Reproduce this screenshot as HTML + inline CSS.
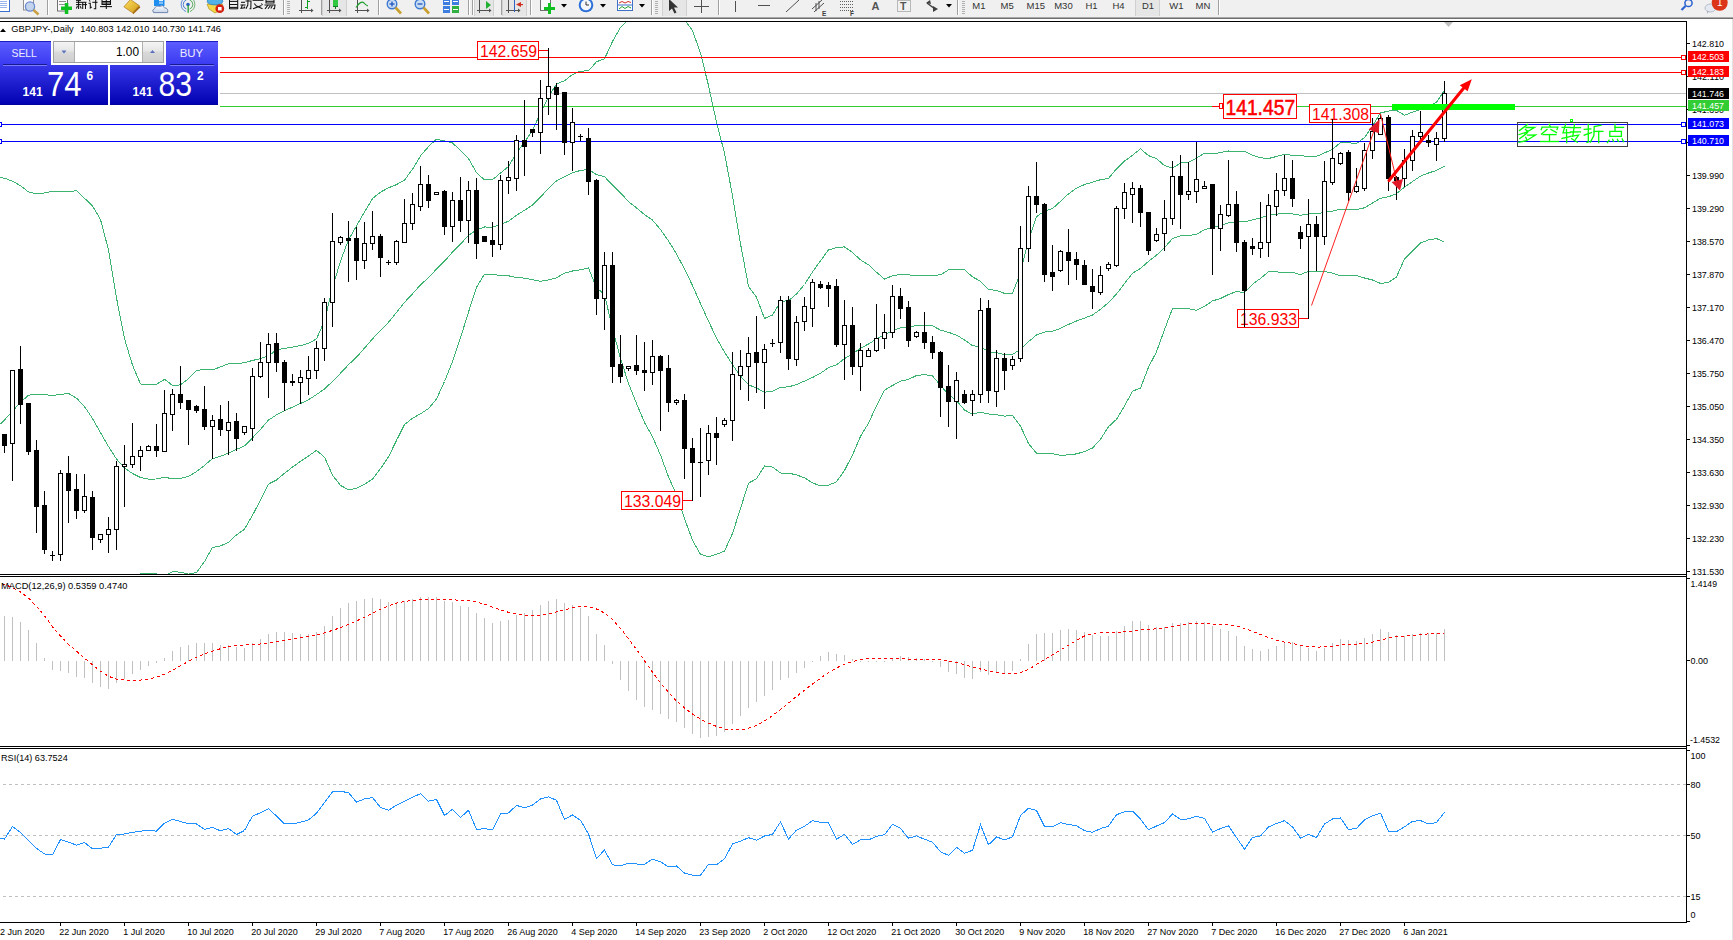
<!DOCTYPE html><html><head><meta charset="utf-8"><style>html,body{margin:0;padding:0;background:#fff;width:1733px;height:940px;overflow:hidden}svg{display:block}text{font-family:"Liberation Sans",sans-serif}</style></head><body>
<svg width="1733" height="940" viewBox="0 0 1733 940">
<rect width="1733" height="940" fill="#fff"/>
<g id="toolbar">
<rect x="0" y="0" width="1733" height="17" fill="#f0f0f0"/>
<rect x="0" y="17" width="1733" height="1" fill="#a8a8a8"/><rect x="0" y="18" width="1733" height="1" fill="#6e6e6e"/>
<g shape-rendering="crispEdges">
<rect x="-2" y="-2" width="11" height="13" fill="#fff" stroke="#3a6fd0" stroke-width="1"/>
<rect x="0" y="1" width="7" height="1" fill="#9ab4ec"/>
<rect x="0" y="3" width="7" height="1" fill="#9ab4ec"/>
<rect x="0" y="5" width="7" height="1" fill="#9ab4ec"/>
<rect x="0" y="7" width="7" height="1" fill="#9ab4ec"/>
</g>
<rect x="23.5" y="-2" width="10" height="12" fill="#fafafa" stroke="#909090" stroke-width="1"/>
<circle cx="30" cy="6.5" r="4.6" fill="#c4d4ec" stroke="#6c8cd0" stroke-width="1.3"/>
<line x1="33.5" y1="10" x2="38.5" y2="14.5" stroke="#c8a040" stroke-width="2.4"/>
<rect x="47" y="0" width="1" height="15" fill="#a0a0a0"/><rect x="48" y="0" width="1" height="15" fill="#ffffff"/>
<rect x="57.5" y="-2" width="10" height="13" fill="#fafafa" stroke="#707070" stroke-width="1"/>
<rect x="59" y="1" width="7" height="1" fill="#909090"/><rect x="59" y="4" width="7" height="1" fill="#909090"/>
<rect x="61" y="6.5" width="11" height="3.5" fill="#10c020"/><rect x="64.8" y="3" width="3.5" height="11" fill="#10c020"/>
<g fill="none" stroke="#111" stroke-width="1.05">
<polyline points="76,2.3 86.5,2.3"/>
<polyline points="78.6,0 78.6,9"/>
<polyline points="76,4.6 81.5,4.6"/>
<polyline points="76.3,8.5 77.5,6"/>
<polyline points="80.2,6.3 81.3,8.5"/>
<polyline points="82.7,2.5 82.7,9"/>
<polyline points="85.5,2.5 85.5,9"/>
<polyline points="82.7,4.6 87,4.6"/>
<polyline points="76,0.3 81,0.3"/>
<polyline points="89.2,0.3 90.2,1.5"/>
<polyline points="88.5,3.2 90.3,3.2 90.3,8 91.8,6.8"/>
<polyline points="92.3,2.3 97.5,2.3"/>
<polyline points="95.7,0 95.7,8.7 93.8,8.7"/>
<polyline points="102,0 102,4.5 110.5,4.5 110.5,0"/>
<polyline points="102,1.5 110.5,1.5"/>
<polyline points="102,3 110.5,3"/>
<polyline points="100,6.6 112,6.6"/>
<polyline points="106.3,0 106.3,9"/>
</g>
<defs><linearGradient id="gbk" x1="0" y1="0" x2="1" y2="1"><stop offset="0" stop-color="#ffe060"/><stop offset="1" stop-color="#d09a18"/></linearGradient><linearGradient id="gcl" x1="0" y1="0" x2="0" y2="1"><stop offset="0" stop-color="#ffffff"/><stop offset="1" stop-color="#c8d4e8"/></linearGradient></defs>
<polygon points="132.5,12.8 139.2,5.6 140.3,7.6 133.2,14.2" fill="#a86a10"/>
<polygon points="123.9,6.8 130.5,-0.5 139.2,5.6 132.5,12.8" fill="url(#gbk)" stroke="#b07810" stroke-width="0.7"/>
<rect x="154" y="-2" width="10.5" height="8" fill="#1e8ef0"/><rect x="159" y="0" width="4" height="1.2" fill="#e8f4ff"/><rect x="159" y="2.5" width="4" height="1" fill="#e8f4ff"/>
<path d="M153.5,12.6 Q151.3,10 154.6,8.6 Q155.6,5.2 159.6,6.4 Q162.6,4.3 164.6,7.8 Q168.6,8.2 167.6,12.6 Z" fill="url(#gcl)" stroke="#6f86b0" stroke-width="1"/>
<path d="M186,-2.5 A7.5,7.5 0 0 0 186,11.5" fill="none" stroke="#5b8ad8" stroke-width="1"/><path d="M190,-2.5 A7.5,7.5 0 0 1 190,11.5" fill="none" stroke="#6cb070" stroke-width="1"/>
<path d="M186.3,0 A4.8,4.8 0 0 0 186.3,9" fill="none" stroke="#4a7fd0" stroke-width="1"/><path d="M189.7,0 A4.8,4.8 0 0 1 189.7,9" fill="none" stroke="#58a860" stroke-width="1"/>
<circle cx="188" cy="4.5" r="1.8" fill="#2a60c8"/>
<rect x="187.5" y="5" width="1.3" height="7.8" fill="#20a030"/>
<polygon points="207,4 222.5,4 221,10 215,13 209,9" fill="#f2d848" stroke="#b09020" stroke-width="0.7"/>
<ellipse cx="215" cy="1.3" rx="7.8" ry="3.6" fill="#50b0e8" stroke="#2a80c0" stroke-width="0.8"/>
<circle cx="219.8" cy="8.7" r="4.4" fill="#d42010"/><rect x="218" y="7" width="3.6" height="3.4" fill="#fff"/>
<g fill="none" stroke="#111" stroke-width="1.05">
<polyline points="229.5,0 229.5,9"/>
<polyline points="237.7,0 237.7,9"/>
<polyline points="229.5,1.4 237.7,1.4"/>
<polyline points="229.5,4.5 237.7,4.5"/>
<polyline points="229.5,7.4 237.7,7.4"/>
<polyline points="229.5,8.8 237.7,8.8"/>
<polyline points="241,2.3 245,2.3"/>
<polyline points="240.5,5 245.5,5"/>
<polyline points="242.5,5 241,8.3 245,7.8"/>
<polyline points="244,6.5 245,8"/>
<polyline points="245.5,1 251,1 250.8,8.8 249.5,8.8"/>
<polyline points="248,0 247.8,5 246,8.8"/>
<polyline points="252.5,0.3 263.5,0.3"/>
<polyline points="254.3,3.5 255.7,5.3"/>
<polyline points="261.3,3.5 262.6,5"/>
<polyline points="255.5,5.5 262.5,8.8"/>
<polyline points="261.5,5.5 253,8.8"/>
<polyline points="266,0 266,3 274,3 274,0"/>
<polyline points="266,1.3 274,1.3"/>
<polyline points="264.5,5 275,5 274.5,8.8 273,8.8"/>
<polyline points="268,5 265,8.8"/>
<polyline points="270.5,5.5 268,8.8"/>
<polyline points="272.5,5.5 270.8,8.5"/>
</g>
<g shape-rendering="crispEdges">
<rect x="283" y="0" width="1" height="15" fill="#a0a0a0"/><rect x="284" y="0" width="1" height="15" fill="#ffffff"/>
<rect x="287" y="1" width="3" height="1" fill="#b0b0b0"/>
<rect x="287" y="3" width="3" height="1" fill="#b0b0b0"/>
<rect x="287" y="5" width="3" height="1" fill="#b0b0b0"/>
<rect x="287" y="7" width="3" height="1" fill="#b0b0b0"/>
<rect x="287" y="9" width="3" height="1" fill="#b0b0b0"/>
<rect x="287" y="11" width="3" height="1" fill="#b0b0b0"/>
<rect x="287" y="13" width="3" height="1" fill="#b0b0b0"/>
<rect x="301" y="-1" width="1" height="14" fill="#505050"/><rect x="299" y="10" width="12" height="1" fill="#505050"/><polygon points="311,8.5 313.5,10.5 311,12.5" fill="#505050" shape-rendering="auto"/>
<rect x="307" y="0" width="1" height="9" fill="#10a020"/><rect x="305" y="7" width="2" height="1" fill="#10a020"/><rect x="308" y="1" width="2" height="1" fill="#10a020"/>
<rect x="321" y="0" width="1" height="15" fill="#a0a0a0"/><rect x="322" y="0" width="1" height="15" fill="#ffffff"/>
<rect x="322" y="0" width="25" height="16" fill="#e6e6e6"/><rect x="322" y="0" width="1" height="16" fill="#d0d0d0"/><rect x="346" y="0" width="1" height="16" fill="#d0d0d0"/>
<rect x="329" y="-1" width="1" height="14" fill="#505050"/><rect x="327" y="10" width="12" height="1" fill="#505050"/><polygon points="339,8.5 341.5,10.5 339,12.5" fill="#505050" shape-rendering="auto"/>
<rect x="333" y="-1" width="5" height="8" fill="#30c840"/><rect x="333" y="6" width="5" height="1" fill="#108020"/><rect x="335" y="7" width="1" height="2" fill="#108020"/>
<rect x="357" y="-1" width="1" height="14" fill="#505050"/><rect x="355" y="10" width="12" height="1" fill="#505050"/><polygon points="367,8.5 369.5,10.5 367,12.5" fill="#505050" shape-rendering="auto"/>
</g>
<path d="M356,7.5 Q361,0 364,3 Q366,5.5 368,6" fill="none" stroke="#20a030" stroke-width="1.2"/>
<g shape-rendering="crispEdges">
<rect x="378" y="0" width="1" height="15" fill="#a0a0a0"/><rect x="379" y="0" width="1" height="15" fill="#ffffff"/>
</g>
<circle cx="392" cy="4" r="4.8" fill="#c8dcf4" stroke="#3f78d0" stroke-width="1.4"/>
<line x1="395.5" y1="7.5" x2="401" y2="13.5" stroke="#c8a030" stroke-width="2.6"/>
<rect x="389.5" y="3.3" width="5" height="1.4" fill="#2a5cc0"/>
<rect x="391.3" y="1.5" width="1.4" height="5" fill="#2a5cc0"/>
<circle cx="420" cy="4" r="4.8" fill="#c8dcf4" stroke="#3f78d0" stroke-width="1.4"/>
<line x1="423.5" y1="7.5" x2="429" y2="13.5" stroke="#c8a030" stroke-width="2.6"/>
<rect x="417.5" y="3.3" width="5" height="1.4" fill="#2a5cc0"/>
<g shape-rendering="crispEdges">
<rect x="443" y="-2" width="7" height="7" fill="#3d7de0"/><rect x="452" y="-2" width="7" height="7" fill="#3d7de0"/><rect x="443" y="6" width="7" height="7" fill="#3d7de0"/><rect x="452" y="6" width="7" height="7" fill="#30b040"/>
<rect x="444" y="1" width="5" height="1" fill="#fff"/><rect x="453" y="1" width="5" height="1" fill="#fff"/><rect x="444" y="9" width="5" height="1" fill="#fff"/><rect x="453" y="9" width="5" height="1" fill="#fff"/>
<rect x="468" y="0" width="1" height="15" fill="#a0a0a0"/><rect x="469" y="0" width="1" height="15" fill="#ffffff"/>
<rect x="472" y="0" width="1" height="15" fill="#a0a0a0"/><rect x="473" y="0" width="1" height="15" fill="#ffffff"/>
<rect x="474" y="0" width="20" height="16" fill="#e6e6e6"/><rect x="474" y="0" width="1" height="16" fill="#d0d0d0"/><rect x="493" y="0" width="1" height="16" fill="#d0d0d0"/>
<rect x="479" y="-1" width="1" height="14" fill="#505050"/><rect x="477" y="10" width="12" height="1" fill="#505050"/><polygon points="489,8.5 491.5,10.5 489,12.5" fill="#505050" shape-rendering="auto"/>
</g>
<polygon points="486,1 486,9 491,5" fill="#20b030"/>
<g shape-rendering="crispEdges">
<rect x="501" y="0" width="1" height="15" fill="#a0a0a0"/><rect x="502" y="0" width="1" height="15" fill="#ffffff"/>
<rect x="502" y="0" width="25" height="16" fill="#e6e6e6"/><rect x="502" y="0" width="1" height="16" fill="#d0d0d0"/><rect x="526" y="0" width="1" height="16" fill="#d0d0d0"/>
<rect x="508" y="-1" width="1" height="14" fill="#505050"/><rect x="506" y="10" width="12" height="1" fill="#505050"/><polygon points="518,8.5 520.5,10.5 518,12.5" fill="#505050" shape-rendering="auto"/>
<rect x="514" y="0" width="1" height="12" fill="#3060c0"/>
</g>
<polygon points="516,4.5 521,2 521,7" fill="#d03020"/><rect x="520" y="4" width="3" height="1.2" fill="#d03020"/>
<g shape-rendering="crispEdges">
<rect x="530" y="0" width="1" height="15" fill="#a0a0a0"/><rect x="531" y="0" width="1" height="15" fill="#ffffff"/>
<rect x="540.5" y="-2" width="10" height="12" fill="#fafafa" stroke="#707070" stroke-width="1"/>
<rect x="544" y="6.5" width="11" height="3.5" fill="#10c020"/><rect x="547.8" y="3" width="3.5" height="11" fill="#10c020"/>
</g>
<polygon points="561,4 567,4 564,7.5" fill="#000"/>
<circle cx="586" cy="5" r="7.3" fill="#2a6fd8"/><circle cx="586" cy="5" r="5.3" fill="#f4f8fc"/>
<path d="M586,1.5 L586,5 L589,5" fill="none" stroke="#333" stroke-width="1"/>
<polygon points="600,4 606,4 603,7.5" fill="#000"/>
<rect x="617.5" y="-1.5" width="15" height="12" fill="#fff" stroke="#4070c8" stroke-width="1"/>
<polyline points="619,3 622,1.5 625,3 628,1.5 631,2.5" fill="none" stroke="#d03030" stroke-width="1"/>
<rect x="618" y="4.5" width="14" height="1" fill="#4070c8"/>
<polyline points="619,9 622,6.5 625,8.5 628,6.5 631,8" fill="none" stroke="#20a030" stroke-width="1"/>
<polygon points="639,4 645,4 642,7.5" fill="#000"/>
<g shape-rendering="crispEdges">
<rect x="651" y="0" width="1" height="15" fill="#a0a0a0"/><rect x="652" y="0" width="1" height="15" fill="#ffffff"/>
<rect x="655" y="1" width="3" height="1" fill="#b0b0b0"/>
<rect x="655" y="3" width="3" height="1" fill="#b0b0b0"/>
<rect x="655" y="5" width="3" height="1" fill="#b0b0b0"/>
<rect x="655" y="7" width="3" height="1" fill="#b0b0b0"/>
<rect x="655" y="9" width="3" height="1" fill="#b0b0b0"/>
<rect x="655" y="11" width="3" height="1" fill="#b0b0b0"/>
<rect x="655" y="13" width="3" height="1" fill="#b0b0b0"/>
<rect x="662" y="0" width="25" height="16" fill="#e6e6e6"/><rect x="662" y="0" width="1" height="16" fill="#d0d0d0"/><rect x="686" y="0" width="1" height="16" fill="#d0d0d0"/>
</g>
<polygon points="669,-1 669,11 672,8.5 674.5,13.5 676.5,12.5 674,7.5 678,7.5" fill="#333"/>
<g shape-rendering="crispEdges" fill="#505050">
<rect x="701" y="0" width="1" height="13"/><rect x="694" y="6" width="15" height="1"/>
</g>
<g shape-rendering="crispEdges">
<rect x="718" y="0" width="1" height="15" fill="#a0a0a0"/><rect x="719" y="0" width="1" height="15" fill="#ffffff"/>
<rect x="735" y="1" width="1" height="11" fill="#505050"/>
<rect x="758" y="5" width="12" height="1" fill="#505050"/>
</g>
<line x1="786" y1="12" x2="799" y2="0" stroke="#505050" stroke-width="1"/>
<g stroke="#505050" stroke-width="1" fill="none"><line x1="812" y1="9" x2="822" y2="0"/><line x1="814" y1="12" x2="824" y2="3"/><line x1="816" y1="3" x2="816" y2="11"/><line x1="819" y1="1" x2="819" y2="9"/></g>
<text x="822" y="15.5" font-size="6.5" font-weight="bold" fill="#404040">E</text>
<g shape-rendering="crispEdges" fill="#606060">
<rect x="840" y="1" width="1" height="1"/>
<rect x="842" y="1" width="1" height="1"/>
<rect x="844" y="1" width="1" height="1"/>
<rect x="846" y="1" width="1" height="1"/>
<rect x="848" y="1" width="1" height="1"/>
<rect x="850" y="1" width="1" height="1"/>
<rect x="852" y="1" width="1" height="1"/>
<rect x="840" y="4" width="1" height="1"/>
<rect x="842" y="4" width="1" height="1"/>
<rect x="844" y="4" width="1" height="1"/>
<rect x="846" y="4" width="1" height="1"/>
<rect x="848" y="4" width="1" height="1"/>
<rect x="850" y="4" width="1" height="1"/>
<rect x="852" y="4" width="1" height="1"/>
<rect x="840" y="7" width="1" height="1"/>
<rect x="842" y="7" width="1" height="1"/>
<rect x="844" y="7" width="1" height="1"/>
<rect x="846" y="7" width="1" height="1"/>
<rect x="848" y="7" width="1" height="1"/>
<rect x="850" y="7" width="1" height="1"/>
<rect x="852" y="7" width="1" height="1"/>
<rect x="840" y="10" width="1" height="1"/>
<rect x="842" y="10" width="1" height="1"/>
<rect x="844" y="10" width="1" height="1"/>
<rect x="846" y="10" width="1" height="1"/>
<rect x="848" y="10" width="1" height="1"/>
<rect x="850" y="10" width="1" height="1"/>
<rect x="852" y="10" width="1" height="1"/>
</g>
<text x="850" y="16" font-size="6.5" font-weight="bold" fill="#404040">F</text>
<text x="871.5" y="10" font-size="11" font-weight="bold" fill="#555">A</text>
<rect x="897.5" y="0.5" width="13" height="11" fill="none" stroke="#808080" stroke-width="1" stroke-dasharray="1,1"/>
<text x="900" y="10" font-size="10.5" font-weight="bold" fill="#555">T</text>
<polygon points="926,3 930,0 931,4" fill="#404040"/><polygon points="933,6 938,9 933,12" fill="#404040"/><line x1="927" y1="3" x2="935" y2="9" stroke="#404040" stroke-width="1.5"/>
<polygon points="946,4 952,4 949,7.5" fill="#000"/>
<g shape-rendering="crispEdges">
<rect x="957" y="0" width="1" height="15" fill="#a0a0a0"/><rect x="958" y="0" width="1" height="15" fill="#ffffff"/>
<rect x="962" y="1" width="3" height="1" fill="#b0b0b0"/>
<rect x="962" y="3" width="3" height="1" fill="#b0b0b0"/>
<rect x="962" y="5" width="3" height="1" fill="#b0b0b0"/>
<rect x="962" y="7" width="3" height="1" fill="#b0b0b0"/>
<rect x="962" y="9" width="3" height="1" fill="#b0b0b0"/>
<rect x="962" y="11" width="3" height="1" fill="#b0b0b0"/>
<rect x="962" y="13" width="3" height="1" fill="#b0b0b0"/>
<rect x="1135" y="0" width="25" height="16" fill="#e6e6e6"/><rect x="1135" y="0" width="1" height="16" fill="#d0d0d0"/><rect x="1159" y="0" width="1" height="16" fill="#d0d0d0"/>
<rect x="1218" y="0" width="1" height="15" fill="#a0a0a0"/><rect x="1219" y="0" width="1" height="15" fill="#ffffff"/>
</g>
<text x="972.3" y="9.2" font-size="9.5" fill="#333">M1</text>
<text x="1000.5" y="9.2" font-size="9.5" fill="#333">M5</text>
<text x="1026.5" y="9.2" font-size="9.5" fill="#333">M15</text>
<text x="1054.2" y="9.2" font-size="9.5" fill="#333">M30</text>
<text x="1085.4" y="9.2" font-size="9.5" fill="#333">H1</text>
<text x="1112.4" y="9.2" font-size="9.5" fill="#333">H4</text>
<text x="1142" y="9.2" font-size="9.5" fill="#333">D1</text>
<text x="1169.2" y="9.2" font-size="9.5" fill="#333">W1</text>
<text x="1195.5" y="9.2" font-size="9.5" fill="#333">MN</text>
<circle cx="1688.5" cy="3" r="3.6" fill="none" stroke="#2a60d0" stroke-width="1.5"/><line x1="1685.5" y1="6" x2="1681.5" y2="10" stroke="#2a60d0" stroke-width="2.2"/>
<ellipse cx="1710.5" cy="8" rx="5.5" ry="4" fill="#e4e8f0" stroke="#a8b0c0" stroke-width="0.8"/><polygon points="1707,11 1709,11 1707,14" fill="#a8b0c0"/>
<circle cx="1719.7" cy="2.8" r="8" fill="#dc3418"/>
<text x="1719.7" y="6.3" font-size="10" font-family="Liberation Serif" fill="#fff" text-anchor="middle">1</text>
</g>
<g shape-rendering="crispEdges" fill="#000">
<rect x="0" y="21" width="1687" height="1"/>
<rect x="1686" y="21" width="1" height="902"/>
<rect x="0" y="574" width="1687" height="1"/><rect x="0" y="576" width="1687" height="1"/>
<rect x="0" y="746" width="1687" height="1"/><rect x="0" y="748" width="1687" height="1"/>
<rect x="0" y="922" width="1687" height="1"/>
<rect x="1732" y="19" width="1" height="921" fill="#e3e3e3"/>
</g>
<defs><clipPath id="cm"><rect x="0" y="22" width="1686" height="552"/></clipPath><clipPath id="cmacd"><rect x="0" y="577" width="1686" height="169"/></clipPath><clipPath id="crsi"><rect x="0" y="749" width="1686" height="173"/></clipPath></defs>
<g clip-path="url(#cm)">
<g fill="none" stroke="#3cb371" stroke-width="1" shape-rendering="crispEdges"><polyline points="0.0,177.4 4.5,178.2 12.5,181.2 20.5,185.8 28.5,191.9 36.5,193.8 44.5,193.0 52.5,191.1 60.5,191.5 68.5,192.0 76.5,190.6 84.5,198.3 92.5,205.8 100.5,219.5 108.5,249.9 116.5,297.9 124.5,338.7 132.5,365.1 140.5,384.0 148.5,384.1 156.5,384.3 164.5,379.3 172.5,385.4 180.5,384.9 188.5,378.6 196.5,370.6 204.5,369.2 212.5,369.8 220.5,366.9 228.5,363.7 236.5,363.9 244.5,362.6 252.5,360.5 260.5,358.6 268.5,356.0 276.5,349.8 284.5,348.4 292.5,347.1 300.5,345.6 308.5,343.4 316.5,338.8 324.5,320.9 332.5,287.7 340.5,261.0 348.5,239.7 356.5,226.0 364.5,211.9 372.5,198.6 380.5,192.1 388.5,187.8 396.5,184.6 404.5,180.1 412.5,169.3 420.5,155.9 428.5,146.6 436.5,139.1 444.5,141.0 452.5,142.9 460.5,150.6 468.5,158.5 476.5,172.8 484.5,179.8 492.5,179.7 500.5,173.0 508.5,166.5 516.5,152.8 524.5,142.4 532.5,130.3 540.5,112.9 548.5,96.8 556.5,84.0 564.5,80.7 572.5,74.6 580.5,71.1 588.5,70.9 596.5,61.7 604.5,58.9 612.5,41.4 620.5,27.3 628.5,19.7 636.5,12.3 644.5,6.5 652.5,3.4 660.5,4.2 668.5,4.8 676.5,12.9 684.5,19.4 692.5,30.7 700.5,53.1 708.5,85.5 716.5,122.2 724.5,153.1 732.5,195.8 740.5,243.8 748.5,286.3 756.5,297.3 764.5,318.4 772.5,315.0 780.5,301.5 788.5,300.7 796.5,294.0 804.5,284.5 812.5,272.0 820.5,260.7 828.5,250.0 836.5,247.7 844.5,246.9 852.5,252.5 860.5,259.9 868.5,264.8 876.5,272.2 884.5,279.1 892.5,275.8 900.5,274.5 908.5,274.8 916.5,275.7 924.5,275.9 932.5,275.5 940.5,274.8 948.5,269.9 956.5,269.7 964.5,269.8 972.5,276.9 980.5,281.2 988.5,289.6 996.5,290.3 1004.5,293.4 1012.5,293.3 1020.5,272.6 1028.5,239.8 1036.5,216.8 1044.5,211.0 1052.5,208.6 1060.5,201.3 1068.5,193.9 1076.5,188.1 1084.5,184.6 1092.5,182.1 1100.5,179.7 1108.5,178.5 1116.5,168.8 1124.5,161.1 1132.5,155.3 1140.5,148.8 1148.5,155.6 1156.5,158.6 1164.5,165.6 1172.5,168.2 1180.5,163.0 1188.5,162.3 1196.5,158.1 1204.5,153.2 1212.5,153.8 1220.5,152.6 1228.5,151.0 1236.5,151.9 1244.5,151.1 1252.5,155.2 1260.5,157.8 1268.5,158.5 1276.5,156.5 1284.5,154.3 1292.5,155.4 1300.5,155.7 1308.5,156.5 1316.5,156.4 1324.5,152.9 1332.5,149.3 1340.5,142.6 1348.5,142.7 1356.5,143.6 1364.5,137.6 1372.5,126.0 1380.5,112.9 1388.5,111.1 1396.5,110.3 1404.5,115.3 1412.5,112.1 1420.5,109.3 1428.5,106.0 1436.5,102.2 1444.5,90.3"/><polyline points="0.0,424.3 4.5,419.9 12.5,411.2 20.5,402.3 28.5,395.2 36.5,394.2 44.5,394.6 52.5,395.5 60.5,394.5 68.5,393.5 76.5,398.1 84.5,406.6 92.5,418.5 100.5,432.5 108.5,446.5 116.5,459.0 124.5,468.0 132.5,473.5 140.5,477.5 148.5,479.1 156.5,479.0 164.5,477.4 172.5,478.6 180.5,478.5 188.5,476.4 196.5,471.6 204.5,465.4 212.5,458.6 220.5,456.4 228.5,453.0 236.5,449.4 244.5,445.9 252.5,437.9 260.5,429.3 268.5,420.1 276.5,414.9 284.5,410.8 292.5,407.1 300.5,403.5 308.5,399.7 316.5,394.6 324.5,389.0 332.5,381.4 340.5,373.2 348.5,364.7 356.5,357.2 364.5,348.1 372.5,338.9 380.5,330.3 388.5,322.3 396.5,312.5 404.5,302.4 412.5,293.8 420.5,284.9 428.5,277.6 436.5,269.1 444.5,261.2 452.5,252.1 460.5,244.2 468.5,235.3 476.5,230.1 484.5,227.0 492.5,227.1 500.5,224.3 508.5,221.2 516.5,215.2 524.5,210.3 532.5,205.1 540.5,197.1 548.5,188.3 556.5,180.9 564.5,176.9 572.5,172.8 580.5,170.4 588.5,169.4 596.5,174.7 604.5,176.7 612.5,185.0 620.5,192.8 628.5,201.6 636.5,207.9 644.5,214.5 652.5,220.1 660.5,229.6 668.5,240.9 676.5,253.9 684.5,269.0 692.5,285.5 700.5,303.7 708.5,321.1 716.5,338.2 724.5,352.1 732.5,364.7 740.5,376.1 748.5,384.8 756.5,388.0 764.5,392.2 772.5,391.1 780.5,387.3 788.5,386.9 796.5,384.5 804.5,381.1 812.5,377.5 820.5,373.3 828.5,367.6 836.5,364.8 844.5,358.6 852.5,353.8 860.5,348.2 868.5,344.0 876.5,339.0 884.5,334.6 892.5,330.7 900.5,327.8 908.5,327.1 916.5,325.6 924.5,325.3 932.5,325.8 940.5,330.1 948.5,332.3 956.5,335.1 964.5,339.9 972.5,345.6 980.5,346.7 988.5,351.8 996.5,352.5 1004.5,354.8 1012.5,354.4 1020.5,349.4 1028.5,341.7 1036.5,335.0 1044.5,332.1 1052.5,331.2 1060.5,328.4 1068.5,324.4 1076.5,321.0 1084.5,318.1 1092.5,315.0 1100.5,309.4 1108.5,302.6 1116.5,294.0 1124.5,283.6 1132.5,273.2 1140.5,268.4 1148.5,261.4 1156.5,255.2 1164.5,247.6 1172.5,238.5 1180.5,235.7 1188.5,235.5 1196.5,234.3 1204.5,229.8 1212.5,227.4 1220.5,225.5 1228.5,222.8 1236.5,221.7 1244.5,221.9 1252.5,219.8 1260.5,218.1 1268.5,215.1 1276.5,214.2 1284.5,213.4 1292.5,213.9 1300.5,215.2 1308.5,213.9 1316.5,214.0 1324.5,212.1 1332.5,211.2 1340.5,209.2 1348.5,209.2 1356.5,209.6 1364.5,207.8 1372.5,203.0 1380.5,198.2 1388.5,196.8 1396.5,193.7 1404.5,187.1 1412.5,181.6 1420.5,176.1 1428.5,173.0 1436.5,170.4 1444.5,166.2"/><polyline points="132.5,580.0 140.5,573.6 148.5,573.6 156.5,573.8 164.5,575.5 172.5,571.8 180.5,572.1 188.5,574.2 196.5,572.5 204.5,561.6 212.5,547.4 220.5,545.9 228.5,542.3 236.5,534.9 244.5,529.2 252.5,515.3 260.5,500.0 268.5,484.1 276.5,480.0 284.5,473.3 292.5,467.1 300.5,461.4 308.5,456.0 316.5,450.4 324.5,457.2 332.5,475.1 340.5,485.4 348.5,489.7 356.5,488.4 364.5,484.2 372.5,479.2 380.5,468.6 388.5,456.9 396.5,440.4 404.5,424.6 412.5,418.2 420.5,413.8 428.5,408.6 436.5,399.1 444.5,381.5 452.5,361.4 460.5,337.9 468.5,312.0 476.5,287.3 484.5,274.2 492.5,274.5 500.5,275.5 508.5,275.8 516.5,277.5 524.5,278.1 532.5,279.8 540.5,281.3 548.5,279.9 556.5,277.8 564.5,273.1 572.5,271.0 580.5,269.7 588.5,268.0 596.5,287.7 604.5,294.5 612.5,328.6 620.5,358.3 628.5,383.4 636.5,403.5 644.5,422.5 652.5,436.8 660.5,455.0 668.5,476.9 676.5,494.8 684.5,518.6 692.5,540.3 700.5,554.3 708.5,556.7 716.5,554.3 724.5,551.0 732.5,533.5 740.5,508.5 748.5,483.2 756.5,478.7 764.5,466.0 772.5,467.1 780.5,473.0 788.5,473.1 796.5,474.9 804.5,477.8 812.5,482.9 820.5,485.9 828.5,485.2 836.5,481.8 844.5,470.4 852.5,455.0 860.5,436.4 868.5,423.2 876.5,405.8 884.5,390.1 892.5,385.5 900.5,381.1 908.5,379.4 916.5,375.5 924.5,374.6 932.5,376.0 940.5,385.4 948.5,394.6 956.5,400.6 964.5,410.0 972.5,414.2 980.5,412.1 988.5,414.0 996.5,414.7 1004.5,416.1 1012.5,415.6 1020.5,426.1 1028.5,443.6 1036.5,453.2 1044.5,453.2 1052.5,453.7 1060.5,455.4 1068.5,454.8 1076.5,453.9 1084.5,451.5 1092.5,448.0 1100.5,439.2 1108.5,426.7 1116.5,419.3 1124.5,406.0 1132.5,391.2 1140.5,388.0 1148.5,367.2 1156.5,351.8 1164.5,329.6 1172.5,308.7 1180.5,308.5 1188.5,308.7 1196.5,310.4 1204.5,306.4 1212.5,300.9 1220.5,298.5 1228.5,294.5 1236.5,291.5 1244.5,292.8 1252.5,284.3 1260.5,278.4 1268.5,271.8 1276.5,271.9 1284.5,272.6 1292.5,272.4 1300.5,274.6 1308.5,271.3 1316.5,271.5 1324.5,271.4 1332.5,273.2 1340.5,275.8 1348.5,275.8 1356.5,275.5 1364.5,278.0 1372.5,280.0 1380.5,283.4 1388.5,282.5 1396.5,277.0 1404.5,258.9 1412.5,251.0 1420.5,243.0 1428.5,239.9 1436.5,238.6 1444.5,242.1"/></g>
<g shape-rendering="crispEdges">
<rect x="0" y="57" width="1686" height="1" fill="#ff0000"/>
<rect x="0" y="72" width="1686" height="1" fill="#ff0000"/>
<rect x="0" y="93" width="1686" height="1" fill="#c0c0c0"/>
<rect x="0" y="106" width="1686" height="1" fill="#32cd32"/>
<rect x="0" y="124" width="1686" height="1" fill="#0000ff"/>
<rect x="0" y="141" width="1686" height="1" fill="#0000ff"/>
<rect x="1681.5" y="55.5" width="4" height="4" fill="#fff" stroke="#ff0000" stroke-width="1"/>
<rect x="-2.5" y="55.5" width="4" height="4" fill="#fff" stroke="#ff0000" stroke-width="1"/>
<rect x="1681.5" y="70.5" width="4" height="4" fill="#fff" stroke="#ff0000" stroke-width="1"/>
<rect x="-2.5" y="70.5" width="4" height="4" fill="#fff" stroke="#ff0000" stroke-width="1"/>
<rect x="1681.5" y="122.5" width="4" height="4" fill="#fff" stroke="#0000ff" stroke-width="1"/>
<rect x="-2.5" y="122.5" width="4" height="4" fill="#fff" stroke="#0000ff" stroke-width="1"/>
<rect x="1681.5" y="139.5" width="4" height="4" fill="#fff" stroke="#0000ff" stroke-width="1"/>
<rect x="-2.5" y="139.5" width="4" height="4" fill="#fff" stroke="#0000ff" stroke-width="1"/>
</g>
<g shape-rendering="crispEdges" fill="#ff0000"><rect x="539" y="50" width="9" height="1"/></g>
<rect x="477.5" y="41.5" width="61" height="18" fill="#fff" stroke="#ff0000" stroke-width="1" shape-rendering="crispEdges"/><text x="480" y="57" font-size="16" fill="#ff0000" text-anchor="start" font-weight="normal" textLength="57" lengthAdjust="spacingAndGlyphs">142.659</text>
<g shape-rendering="crispEdges" fill="#ff0000"><rect x="1212" y="106" width="9" height="1"/></g>
<rect x="1219.5" y="103.5" width="3" height="5" fill="#fff" stroke="#ff0000" stroke-width="1" shape-rendering="crispEdges"/>
<rect x="1223.5" y="94.5" width="73" height="24" fill="#fff" stroke="#ff0000" stroke-width="1" shape-rendering="crispEdges"/><text x="1225.5" y="115.3" font-size="22.5" fill="#ff0000" text-anchor="start" font-weight="normal" stroke="#ff0000" stroke-width="0.55" textLength="69.6" lengthAdjust="spacingAndGlyphs">141.457</text>
<g shape-rendering="crispEdges" fill="#ff0000"><rect x="1371" y="113" width="9" height="1"/></g>
<rect x="1309.5" y="104.5" width="61" height="18" fill="#fff" stroke="#ff0000" stroke-width="1" shape-rendering="crispEdges"/><text x="1312" y="120" font-size="16" fill="#ff0000" text-anchor="start" font-weight="normal" textLength="57" lengthAdjust="spacingAndGlyphs">141.308</text>
<g shape-rendering="crispEdges" fill="#ff0000"><rect x="1299" y="318" width="9" height="1"/></g>
<rect x="1237.5" y="309.5" width="61" height="18" fill="#fff" stroke="#ff0000" stroke-width="1" shape-rendering="crispEdges"/><text x="1240" y="325" font-size="16" fill="#ff0000" text-anchor="start" font-weight="normal" textLength="57" lengthAdjust="spacingAndGlyphs">136.933</text>
<g shape-rendering="crispEdges" fill="#ff0000"><rect x="683" y="500" width="9" height="1"/></g>
<rect x="621.5" y="491.5" width="61" height="18" fill="#fff" stroke="#ff0000" stroke-width="1" shape-rendering="crispEdges"/><text x="624" y="507" font-size="16" fill="#ff0000" text-anchor="start" font-weight="normal" textLength="57" lengthAdjust="spacingAndGlyphs">133.049</text>
<g shape-rendering="crispEdges">
<rect x="4" y="434" width="1" height="19" fill="#000"/>
<rect x="2" y="434" width="5" height="12" fill="#000"/>
<rect x="12" y="370" width="1" height="111" fill="#000"/>
<rect x="10" y="370" width="5" height="74" fill="#000"/>
<rect x="11" y="371" width="3" height="72" fill="#fff"/>
<rect x="20" y="346" width="1" height="78" fill="#000"/>
<rect x="18" y="369" width="5" height="36" fill="#000"/>
<rect x="28" y="403" width="1" height="52" fill="#000"/>
<rect x="26" y="403" width="5" height="49" fill="#000"/>
<rect x="36" y="440" width="1" height="93" fill="#000"/>
<rect x="34" y="450" width="5" height="57" fill="#000"/>
<rect x="44" y="491" width="1" height="63" fill="#000"/>
<rect x="42" y="505" width="5" height="45" fill="#000"/>
<rect x="52" y="551" width="1" height="10" fill="#000"/>
<rect x="50" y="555" width="5" height="1" fill="#000"/>
<rect x="60" y="470" width="1" height="91" fill="#000"/>
<rect x="58" y="473" width="5" height="82" fill="#000"/>
<rect x="59" y="474" width="3" height="80" fill="#fff"/>
<rect x="68" y="456" width="1" height="67" fill="#000"/>
<rect x="66" y="473" width="5" height="18" fill="#000"/>
<rect x="76" y="474" width="1" height="45" fill="#000"/>
<rect x="74" y="489" width="5" height="22" fill="#000"/>
<rect x="84" y="474" width="1" height="39" fill="#000"/>
<rect x="82" y="496" width="5" height="15" fill="#000"/>
<rect x="83" y="497" width="3" height="13" fill="#fff"/>
<rect x="92" y="491" width="1" height="59" fill="#000"/>
<rect x="90" y="497" width="5" height="41" fill="#000"/>
<rect x="100" y="534" width="1" height="9" fill="#000"/>
<rect x="98" y="534" width="5" height="6" fill="#000"/>
<rect x="99" y="535" width="3" height="4" fill="#fff"/>
<rect x="108" y="517" width="1" height="36" fill="#000"/>
<rect x="106" y="529" width="5" height="6" fill="#000"/>
<rect x="107" y="530" width="3" height="4" fill="#fff"/>
<rect x="116" y="461" width="1" height="89" fill="#000"/>
<rect x="114" y="466" width="5" height="64" fill="#000"/>
<rect x="115" y="467" width="3" height="62" fill="#fff"/>
<rect x="124" y="445" width="1" height="62" fill="#000"/>
<rect x="122" y="464" width="5" height="3" fill="#000"/>
<rect x="123" y="465" width="3" height="1" fill="#fff"/>
<rect x="132" y="423" width="1" height="45" fill="#000"/>
<rect x="130" y="456" width="5" height="9" fill="#000"/>
<rect x="131" y="457" width="3" height="7" fill="#fff"/>
<rect x="140" y="446" width="1" height="25" fill="#000"/>
<rect x="138" y="450" width="5" height="7" fill="#000"/>
<rect x="139" y="451" width="3" height="5" fill="#fff"/>
<rect x="148" y="445" width="1" height="6" fill="#000"/>
<rect x="146" y="446" width="5" height="5" fill="#000"/>
<rect x="147" y="447" width="3" height="3" fill="#fff"/>
<rect x="156" y="424" width="1" height="33" fill="#000"/>
<rect x="154" y="446" width="5" height="5" fill="#000"/>
<rect x="164" y="390" width="1" height="62" fill="#000"/>
<rect x="162" y="413" width="5" height="39" fill="#000"/>
<rect x="163" y="414" width="3" height="37" fill="#fff"/>
<rect x="172" y="389" width="1" height="42" fill="#000"/>
<rect x="170" y="394" width="5" height="21" fill="#000"/>
<rect x="171" y="395" width="3" height="19" fill="#fff"/>
<rect x="180" y="366" width="1" height="43" fill="#000"/>
<rect x="178" y="394" width="5" height="9" fill="#000"/>
<rect x="188" y="400" width="1" height="45" fill="#000"/>
<rect x="186" y="400" width="5" height="10" fill="#000"/>
<rect x="196" y="405" width="1" height="8" fill="#000"/>
<rect x="194" y="406" width="5" height="5" fill="#000"/>
<rect x="204" y="386" width="1" height="44" fill="#000"/>
<rect x="202" y="409" width="5" height="18" fill="#000"/>
<rect x="212" y="415" width="1" height="44" fill="#000"/>
<rect x="210" y="420" width="5" height="7" fill="#000"/>
<rect x="211" y="421" width="3" height="5" fill="#fff"/>
<rect x="220" y="405" width="1" height="31" fill="#000"/>
<rect x="218" y="419" width="5" height="11" fill="#000"/>
<rect x="228" y="401" width="1" height="54" fill="#000"/>
<rect x="226" y="422" width="5" height="9" fill="#000"/>
<rect x="227" y="423" width="3" height="7" fill="#fff"/>
<rect x="236" y="413" width="1" height="38" fill="#000"/>
<rect x="234" y="421" width="5" height="18" fill="#000"/>
<rect x="244" y="426" width="1" height="9" fill="#000"/>
<rect x="242" y="426" width="5" height="7" fill="#000"/>
<rect x="243" y="427" width="3" height="5" fill="#fff"/>
<rect x="252" y="368" width="1" height="73" fill="#000"/>
<rect x="250" y="376" width="5" height="53" fill="#000"/>
<rect x="251" y="377" width="3" height="51" fill="#fff"/>
<rect x="260" y="342" width="1" height="36" fill="#000"/>
<rect x="258" y="362" width="5" height="15" fill="#000"/>
<rect x="259" y="363" width="3" height="13" fill="#fff"/>
<rect x="268" y="333" width="1" height="65" fill="#000"/>
<rect x="266" y="344" width="5" height="19" fill="#000"/>
<rect x="267" y="345" width="3" height="17" fill="#fff"/>
<rect x="276" y="333" width="1" height="39" fill="#000"/>
<rect x="274" y="343" width="5" height="20" fill="#000"/>
<rect x="284" y="360" width="1" height="51" fill="#000"/>
<rect x="282" y="362" width="5" height="21" fill="#000"/>
<rect x="292" y="374" width="1" height="12" fill="#000"/>
<rect x="290" y="381" width="5" height="2" fill="#000"/>
<rect x="300" y="370" width="1" height="34" fill="#000"/>
<rect x="298" y="377" width="5" height="6" fill="#000"/>
<rect x="299" y="378" width="3" height="4" fill="#fff"/>
<rect x="308" y="356" width="1" height="39" fill="#000"/>
<rect x="306" y="370" width="5" height="9" fill="#000"/>
<rect x="307" y="371" width="3" height="7" fill="#fff"/>
<rect x="316" y="341" width="1" height="38" fill="#000"/>
<rect x="314" y="348" width="5" height="23" fill="#000"/>
<rect x="315" y="349" width="3" height="21" fill="#fff"/>
<rect x="324" y="298" width="1" height="63" fill="#000"/>
<rect x="322" y="302" width="5" height="47" fill="#000"/>
<rect x="323" y="303" width="3" height="45" fill="#fff"/>
<rect x="332" y="213" width="1" height="114" fill="#000"/>
<rect x="330" y="241" width="5" height="62" fill="#000"/>
<rect x="331" y="242" width="3" height="60" fill="#fff"/>
<rect x="340" y="236" width="1" height="9" fill="#000"/>
<rect x="338" y="237" width="5" height="6" fill="#000"/>
<rect x="339" y="238" width="3" height="4" fill="#fff"/>
<rect x="348" y="221" width="1" height="61" fill="#000"/>
<rect x="346" y="238" width="5" height="3" fill="#000"/>
<rect x="356" y="227" width="1" height="53" fill="#000"/>
<rect x="354" y="238" width="5" height="23" fill="#000"/>
<rect x="364" y="222" width="1" height="47" fill="#000"/>
<rect x="362" y="243" width="5" height="18" fill="#000"/>
<rect x="363" y="244" width="3" height="16" fill="#fff"/>
<rect x="372" y="211" width="1" height="39" fill="#000"/>
<rect x="370" y="236" width="5" height="8" fill="#000"/>
<rect x="371" y="237" width="3" height="6" fill="#fff"/>
<rect x="380" y="234" width="1" height="43" fill="#000"/>
<rect x="378" y="236" width="5" height="22" fill="#000"/>
<rect x="388" y="260" width="1" height="5" fill="#000"/>
<rect x="386" y="262" width="5" height="1" fill="#000"/>
<rect x="396" y="240" width="1" height="25" fill="#000"/>
<rect x="394" y="241" width="5" height="22" fill="#000"/>
<rect x="395" y="242" width="3" height="20" fill="#fff"/>
<rect x="404" y="199" width="1" height="44" fill="#000"/>
<rect x="402" y="223" width="5" height="20" fill="#000"/>
<rect x="403" y="224" width="3" height="18" fill="#fff"/>
<rect x="412" y="193" width="1" height="37" fill="#000"/>
<rect x="410" y="204" width="5" height="20" fill="#000"/>
<rect x="411" y="205" width="3" height="18" fill="#fff"/>
<rect x="420" y="166" width="1" height="45" fill="#000"/>
<rect x="418" y="184" width="5" height="23" fill="#000"/>
<rect x="419" y="185" width="3" height="21" fill="#fff"/>
<rect x="428" y="175" width="1" height="33" fill="#000"/>
<rect x="426" y="184" width="5" height="17" fill="#000"/>
<rect x="436" y="192" width="1" height="3" fill="#000"/>
<rect x="434" y="192" width="5" height="3" fill="#000"/>
<rect x="435" y="193" width="3" height="1" fill="#fff"/>
<rect x="444" y="190" width="1" height="45" fill="#000"/>
<rect x="442" y="191" width="5" height="36" fill="#000"/>
<rect x="452" y="192" width="1" height="50" fill="#000"/>
<rect x="450" y="200" width="5" height="27" fill="#000"/>
<rect x="451" y="201" width="3" height="25" fill="#fff"/>
<rect x="460" y="177" width="1" height="55" fill="#000"/>
<rect x="458" y="200" width="5" height="21" fill="#000"/>
<rect x="468" y="181" width="1" height="62" fill="#000"/>
<rect x="466" y="190" width="5" height="31" fill="#000"/>
<rect x="467" y="191" width="3" height="29" fill="#fff"/>
<rect x="476" y="178" width="1" height="81" fill="#000"/>
<rect x="474" y="190" width="5" height="54" fill="#000"/>
<rect x="484" y="236" width="1" height="6" fill="#000"/>
<rect x="482" y="236" width="5" height="6" fill="#000"/>
<rect x="492" y="222" width="1" height="35" fill="#000"/>
<rect x="490" y="240" width="5" height="5" fill="#000"/>
<rect x="500" y="175" width="1" height="75" fill="#000"/>
<rect x="498" y="180" width="5" height="65" fill="#000"/>
<rect x="499" y="181" width="3" height="63" fill="#fff"/>
<rect x="508" y="161" width="1" height="33" fill="#000"/>
<rect x="506" y="177" width="5" height="4" fill="#000"/>
<rect x="507" y="178" width="3" height="2" fill="#fff"/>
<rect x="516" y="135" width="1" height="56" fill="#000"/>
<rect x="514" y="140" width="5" height="39" fill="#000"/>
<rect x="515" y="141" width="3" height="37" fill="#fff"/>
<rect x="524" y="100" width="1" height="76" fill="#000"/>
<rect x="522" y="140" width="5" height="7" fill="#000"/>
<rect x="532" y="129" width="1" height="8" fill="#000"/>
<rect x="530" y="129" width="5" height="4" fill="#000"/>
<rect x="540" y="80" width="1" height="74" fill="#000"/>
<rect x="538" y="98" width="5" height="35" fill="#000"/>
<rect x="539" y="99" width="3" height="33" fill="#fff"/>
<rect x="548" y="48" width="1" height="67" fill="#000"/>
<rect x="546" y="86" width="5" height="13" fill="#000"/>
<rect x="547" y="87" width="3" height="11" fill="#fff"/>
<rect x="556" y="83" width="1" height="47" fill="#000"/>
<rect x="554" y="87" width="5" height="8" fill="#000"/>
<rect x="564" y="92" width="1" height="63" fill="#000"/>
<rect x="562" y="92" width="5" height="51" fill="#000"/>
<rect x="572" y="108" width="1" height="63" fill="#000"/>
<rect x="570" y="122" width="5" height="21" fill="#000"/>
<rect x="571" y="123" width="3" height="19" fill="#fff"/>
<rect x="580" y="134" width="1" height="7" fill="#000"/>
<rect x="578" y="136" width="5" height="1" fill="#000"/>
<rect x="588" y="128" width="1" height="67" fill="#000"/>
<rect x="586" y="138" width="5" height="44" fill="#000"/>
<rect x="596" y="179" width="1" height="136" fill="#000"/>
<rect x="594" y="180" width="5" height="119" fill="#000"/>
<rect x="604" y="252" width="1" height="78" fill="#000"/>
<rect x="602" y="265" width="5" height="34" fill="#000"/>
<rect x="603" y="266" width="3" height="32" fill="#fff"/>
<rect x="612" y="252" width="1" height="131" fill="#000"/>
<rect x="610" y="265" width="5" height="102" fill="#000"/>
<rect x="620" y="335" width="1" height="48" fill="#000"/>
<rect x="618" y="364" width="5" height="13" fill="#000"/>
<rect x="628" y="366" width="1" height="5" fill="#000"/>
<rect x="626" y="366" width="5" height="3" fill="#000"/>
<rect x="627" y="367" width="3" height="1" fill="#fff"/>
<rect x="636" y="335" width="1" height="40" fill="#000"/>
<rect x="634" y="365" width="5" height="6" fill="#000"/>
<rect x="644" y="342" width="1" height="49" fill="#000"/>
<rect x="642" y="370" width="5" height="3" fill="#000"/>
<rect x="652" y="340" width="1" height="45" fill="#000"/>
<rect x="650" y="356" width="5" height="17" fill="#000"/>
<rect x="651" y="357" width="3" height="15" fill="#fff"/>
<rect x="660" y="355" width="1" height="76" fill="#000"/>
<rect x="658" y="356" width="5" height="15" fill="#000"/>
<rect x="668" y="355" width="1" height="57" fill="#000"/>
<rect x="666" y="368" width="5" height="35" fill="#000"/>
<rect x="676" y="399" width="1" height="6" fill="#000"/>
<rect x="674" y="400" width="5" height="3" fill="#000"/>
<rect x="675" y="401" width="3" height="1" fill="#fff"/>
<rect x="684" y="394" width="1" height="85" fill="#000"/>
<rect x="682" y="400" width="5" height="49" fill="#000"/>
<rect x="692" y="438" width="1" height="63" fill="#000"/>
<rect x="690" y="448" width="5" height="15" fill="#000"/>
<rect x="700" y="428" width="1" height="69" fill="#000"/>
<rect x="698" y="462" width="5" height="1" fill="#000"/>
<rect x="708" y="425" width="1" height="50" fill="#000"/>
<rect x="706" y="433" width="5" height="28" fill="#000"/>
<rect x="707" y="434" width="3" height="26" fill="#fff"/>
<rect x="716" y="417" width="1" height="48" fill="#000"/>
<rect x="714" y="433" width="5" height="5" fill="#000"/>
<rect x="724" y="418" width="1" height="9" fill="#000"/>
<rect x="722" y="420" width="5" height="5" fill="#000"/>
<rect x="723" y="421" width="3" height="3" fill="#fff"/>
<rect x="732" y="352" width="1" height="89" fill="#000"/>
<rect x="730" y="374" width="5" height="47" fill="#000"/>
<rect x="731" y="375" width="3" height="45" fill="#fff"/>
<rect x="740" y="350" width="1" height="40" fill="#000"/>
<rect x="738" y="366" width="5" height="10" fill="#000"/>
<rect x="739" y="367" width="3" height="8" fill="#fff"/>
<rect x="748" y="337" width="1" height="64" fill="#000"/>
<rect x="746" y="353" width="5" height="14" fill="#000"/>
<rect x="747" y="354" width="3" height="12" fill="#fff"/>
<rect x="756" y="316" width="1" height="77" fill="#000"/>
<rect x="754" y="352" width="5" height="11" fill="#000"/>
<rect x="764" y="344" width="1" height="65" fill="#000"/>
<rect x="762" y="349" width="5" height="14" fill="#000"/>
<rect x="763" y="350" width="3" height="12" fill="#fff"/>
<rect x="772" y="339" width="1" height="8" fill="#000"/>
<rect x="770" y="343" width="5" height="1" fill="#000"/>
<rect x="780" y="296" width="1" height="57" fill="#000"/>
<rect x="778" y="300" width="5" height="43" fill="#000"/>
<rect x="779" y="301" width="3" height="41" fill="#fff"/>
<rect x="788" y="296" width="1" height="74" fill="#000"/>
<rect x="786" y="300" width="5" height="59" fill="#000"/>
<rect x="796" y="316" width="1" height="50" fill="#000"/>
<rect x="794" y="322" width="5" height="38" fill="#000"/>
<rect x="795" y="323" width="3" height="36" fill="#fff"/>
<rect x="804" y="297" width="1" height="34" fill="#000"/>
<rect x="802" y="306" width="5" height="16" fill="#000"/>
<rect x="803" y="307" width="3" height="14" fill="#fff"/>
<rect x="812" y="279" width="1" height="48" fill="#000"/>
<rect x="810" y="282" width="5" height="27" fill="#000"/>
<rect x="811" y="283" width="3" height="25" fill="#fff"/>
<rect x="820" y="281" width="1" height="8" fill="#000"/>
<rect x="818" y="284" width="5" height="4" fill="#000"/>
<rect x="828" y="282" width="1" height="25" fill="#000"/>
<rect x="826" y="285" width="5" height="4" fill="#000"/>
<rect x="836" y="279" width="1" height="68" fill="#000"/>
<rect x="834" y="286" width="5" height="59" fill="#000"/>
<rect x="844" y="300" width="1" height="80" fill="#000"/>
<rect x="842" y="325" width="5" height="20" fill="#000"/>
<rect x="843" y="326" width="3" height="18" fill="#fff"/>
<rect x="852" y="307" width="1" height="68" fill="#000"/>
<rect x="850" y="325" width="5" height="42" fill="#000"/>
<rect x="860" y="343" width="1" height="48" fill="#000"/>
<rect x="858" y="350" width="5" height="17" fill="#000"/>
<rect x="859" y="351" width="3" height="15" fill="#fff"/>
<rect x="868" y="348" width="1" height="9" fill="#000"/>
<rect x="866" y="350" width="5" height="7" fill="#000"/>
<rect x="867" y="351" width="3" height="5" fill="#fff"/>
<rect x="876" y="304" width="1" height="48" fill="#000"/>
<rect x="874" y="338" width="5" height="13" fill="#000"/>
<rect x="875" y="339" width="3" height="11" fill="#fff"/>
<rect x="884" y="314" width="1" height="35" fill="#000"/>
<rect x="882" y="332" width="5" height="7" fill="#000"/>
<rect x="883" y="333" width="3" height="5" fill="#fff"/>
<rect x="892" y="285" width="1" height="53" fill="#000"/>
<rect x="890" y="296" width="5" height="37" fill="#000"/>
<rect x="891" y="297" width="3" height="35" fill="#fff"/>
<rect x="900" y="288" width="1" height="31" fill="#000"/>
<rect x="898" y="296" width="5" height="13" fill="#000"/>
<rect x="908" y="301" width="1" height="46" fill="#000"/>
<rect x="906" y="307" width="5" height="34" fill="#000"/>
<rect x="916" y="331" width="1" height="7" fill="#000"/>
<rect x="914" y="332" width="5" height="5" fill="#000"/>
<rect x="915" y="333" width="3" height="3" fill="#fff"/>
<rect x="924" y="312" width="1" height="37" fill="#000"/>
<rect x="922" y="332" width="5" height="11" fill="#000"/>
<rect x="932" y="336" width="1" height="23" fill="#000"/>
<rect x="930" y="342" width="5" height="11" fill="#000"/>
<rect x="940" y="351" width="1" height="66" fill="#000"/>
<rect x="938" y="352" width="5" height="36" fill="#000"/>
<rect x="948" y="365" width="1" height="62" fill="#000"/>
<rect x="946" y="386" width="5" height="16" fill="#000"/>
<rect x="956" y="372" width="1" height="67" fill="#000"/>
<rect x="954" y="380" width="5" height="22" fill="#000"/>
<rect x="955" y="381" width="3" height="20" fill="#fff"/>
<rect x="964" y="390" width="1" height="14" fill="#000"/>
<rect x="962" y="394" width="5" height="9" fill="#000"/>
<rect x="972" y="390" width="1" height="26" fill="#000"/>
<rect x="970" y="394" width="5" height="7" fill="#000"/>
<rect x="971" y="395" width="3" height="5" fill="#fff"/>
<rect x="980" y="298" width="1" height="105" fill="#000"/>
<rect x="978" y="310" width="5" height="85" fill="#000"/>
<rect x="979" y="311" width="3" height="83" fill="#fff"/>
<rect x="988" y="300" width="1" height="103" fill="#000"/>
<rect x="986" y="308" width="5" height="83" fill="#000"/>
<rect x="996" y="350" width="1" height="57" fill="#000"/>
<rect x="994" y="358" width="5" height="34" fill="#000"/>
<rect x="995" y="359" width="3" height="32" fill="#fff"/>
<rect x="1004" y="353" width="1" height="37" fill="#000"/>
<rect x="1002" y="358" width="5" height="13" fill="#000"/>
<rect x="1012" y="356" width="1" height="14" fill="#000"/>
<rect x="1010" y="359" width="5" height="7" fill="#000"/>
<rect x="1011" y="360" width="3" height="5" fill="#fff"/>
<rect x="1020" y="226" width="1" height="136" fill="#000"/>
<rect x="1018" y="248" width="5" height="111" fill="#000"/>
<rect x="1019" y="249" width="3" height="109" fill="#fff"/>
<rect x="1028" y="186" width="1" height="76" fill="#000"/>
<rect x="1026" y="196" width="5" height="53" fill="#000"/>
<rect x="1027" y="197" width="3" height="51" fill="#fff"/>
<rect x="1036" y="162" width="1" height="51" fill="#000"/>
<rect x="1034" y="196" width="5" height="9" fill="#000"/>
<rect x="1044" y="203" width="1" height="79" fill="#000"/>
<rect x="1042" y="204" width="5" height="71" fill="#000"/>
<rect x="1052" y="245" width="1" height="46" fill="#000"/>
<rect x="1050" y="272" width="5" height="5" fill="#000"/>
<rect x="1060" y="250" width="1" height="22" fill="#000"/>
<rect x="1058" y="251" width="5" height="20" fill="#000"/>
<rect x="1059" y="252" width="3" height="18" fill="#fff"/>
<rect x="1068" y="229" width="1" height="56" fill="#000"/>
<rect x="1066" y="252" width="5" height="9" fill="#000"/>
<rect x="1076" y="252" width="1" height="28" fill="#000"/>
<rect x="1074" y="259" width="5" height="6" fill="#000"/>
<rect x="1084" y="260" width="1" height="25" fill="#000"/>
<rect x="1082" y="265" width="5" height="20" fill="#000"/>
<rect x="1092" y="269" width="1" height="40" fill="#000"/>
<rect x="1090" y="286" width="5" height="6" fill="#000"/>
<rect x="1100" y="266" width="1" height="29" fill="#000"/>
<rect x="1098" y="275" width="5" height="18" fill="#000"/>
<rect x="1099" y="276" width="3" height="16" fill="#fff"/>
<rect x="1108" y="262" width="1" height="9" fill="#000"/>
<rect x="1106" y="264" width="5" height="5" fill="#000"/>
<rect x="1107" y="265" width="3" height="3" fill="#fff"/>
<rect x="1116" y="206" width="1" height="61" fill="#000"/>
<rect x="1114" y="208" width="5" height="58" fill="#000"/>
<rect x="1115" y="209" width="3" height="56" fill="#fff"/>
<rect x="1124" y="183" width="1" height="36" fill="#000"/>
<rect x="1122" y="192" width="5" height="17" fill="#000"/>
<rect x="1123" y="193" width="3" height="15" fill="#fff"/>
<rect x="1132" y="182" width="1" height="41" fill="#000"/>
<rect x="1130" y="188" width="5" height="7" fill="#000"/>
<rect x="1131" y="189" width="3" height="5" fill="#fff"/>
<rect x="1140" y="185" width="1" height="42" fill="#000"/>
<rect x="1138" y="188" width="5" height="25" fill="#000"/>
<rect x="1148" y="212" width="1" height="43" fill="#000"/>
<rect x="1146" y="212" width="5" height="39" fill="#000"/>
<rect x="1156" y="228" width="1" height="14" fill="#000"/>
<rect x="1154" y="234" width="5" height="7" fill="#000"/>
<rect x="1155" y="235" width="3" height="5" fill="#fff"/>
<rect x="1164" y="200" width="1" height="51" fill="#000"/>
<rect x="1162" y="218" width="5" height="16" fill="#000"/>
<rect x="1163" y="219" width="3" height="14" fill="#fff"/>
<rect x="1172" y="161" width="1" height="64" fill="#000"/>
<rect x="1170" y="176" width="5" height="43" fill="#000"/>
<rect x="1171" y="177" width="3" height="41" fill="#fff"/>
<rect x="1180" y="155" width="1" height="74" fill="#000"/>
<rect x="1178" y="176" width="5" height="19" fill="#000"/>
<rect x="1188" y="162" width="1" height="38" fill="#000"/>
<rect x="1186" y="191" width="5" height="4" fill="#000"/>
<rect x="1187" y="192" width="3" height="2" fill="#fff"/>
<rect x="1196" y="142" width="1" height="61" fill="#000"/>
<rect x="1194" y="179" width="5" height="13" fill="#000"/>
<rect x="1195" y="180" width="3" height="11" fill="#fff"/>
<rect x="1204" y="181" width="1" height="8" fill="#000"/>
<rect x="1202" y="186" width="5" height="3" fill="#000"/>
<rect x="1203" y="187" width="3" height="1" fill="#fff"/>
<rect x="1212" y="184" width="1" height="91" fill="#000"/>
<rect x="1210" y="184" width="5" height="45" fill="#000"/>
<rect x="1220" y="205" width="1" height="46" fill="#000"/>
<rect x="1218" y="214" width="5" height="15" fill="#000"/>
<rect x="1219" y="215" width="3" height="13" fill="#fff"/>
<rect x="1228" y="160" width="1" height="57" fill="#000"/>
<rect x="1226" y="204" width="5" height="12" fill="#000"/>
<rect x="1227" y="205" width="3" height="10" fill="#fff"/>
<rect x="1236" y="191" width="1" height="61" fill="#000"/>
<rect x="1234" y="204" width="5" height="39" fill="#000"/>
<rect x="1244" y="240" width="1" height="87" fill="#000"/>
<rect x="1242" y="242" width="5" height="49" fill="#000"/>
<rect x="1252" y="238" width="1" height="17" fill="#000"/>
<rect x="1250" y="246" width="5" height="3" fill="#000"/>
<rect x="1260" y="202" width="1" height="56" fill="#000"/>
<rect x="1258" y="242" width="5" height="7" fill="#000"/>
<rect x="1259" y="243" width="3" height="5" fill="#fff"/>
<rect x="1268" y="194" width="1" height="63" fill="#000"/>
<rect x="1266" y="205" width="5" height="38" fill="#000"/>
<rect x="1267" y="206" width="3" height="36" fill="#fff"/>
<rect x="1276" y="173" width="1" height="43" fill="#000"/>
<rect x="1274" y="190" width="5" height="17" fill="#000"/>
<rect x="1275" y="191" width="3" height="15" fill="#fff"/>
<rect x="1284" y="155" width="1" height="41" fill="#000"/>
<rect x="1282" y="178" width="5" height="13" fill="#000"/>
<rect x="1283" y="179" width="3" height="11" fill="#fff"/>
<rect x="1292" y="160" width="1" height="47" fill="#000"/>
<rect x="1290" y="178" width="5" height="21" fill="#000"/>
<rect x="1300" y="226" width="1" height="23" fill="#000"/>
<rect x="1298" y="232" width="5" height="7" fill="#000"/>
<rect x="1308" y="199" width="1" height="120" fill="#000"/>
<rect x="1306" y="224" width="5" height="13" fill="#000"/>
<rect x="1307" y="225" width="3" height="11" fill="#fff"/>
<rect x="1316" y="216" width="1" height="55" fill="#000"/>
<rect x="1314" y="224" width="5" height="13" fill="#000"/>
<rect x="1324" y="161" width="1" height="84" fill="#000"/>
<rect x="1322" y="181" width="5" height="56" fill="#000"/>
<rect x="1323" y="182" width="3" height="54" fill="#fff"/>
<rect x="1332" y="119" width="1" height="66" fill="#000"/>
<rect x="1330" y="158" width="5" height="25" fill="#000"/>
<rect x="1331" y="159" width="3" height="23" fill="#fff"/>
<rect x="1340" y="152" width="1" height="13" fill="#000"/>
<rect x="1338" y="153" width="5" height="11" fill="#000"/>
<rect x="1339" y="154" width="3" height="9" fill="#fff"/>
<rect x="1348" y="150" width="1" height="51" fill="#000"/>
<rect x="1346" y="152" width="5" height="41" fill="#000"/>
<rect x="1356" y="168" width="1" height="25" fill="#000"/>
<rect x="1354" y="186" width="5" height="6" fill="#000"/>
<rect x="1355" y="187" width="3" height="4" fill="#fff"/>
<rect x="1364" y="143" width="1" height="48" fill="#000"/>
<rect x="1362" y="150" width="5" height="39" fill="#000"/>
<rect x="1363" y="151" width="3" height="37" fill="#fff"/>
<rect x="1372" y="118" width="1" height="41" fill="#000"/>
<rect x="1370" y="131" width="5" height="20" fill="#000"/>
<rect x="1371" y="132" width="3" height="18" fill="#fff"/>
<rect x="1380" y="114" width="1" height="21" fill="#000"/>
<rect x="1378" y="118" width="5" height="17" fill="#000"/>
<rect x="1379" y="119" width="3" height="15" fill="#fff"/>
<rect x="1388" y="115" width="1" height="76" fill="#000"/>
<rect x="1386" y="117" width="5" height="62" fill="#000"/>
<rect x="1396" y="176" width="1" height="24" fill="#000"/>
<rect x="1394" y="177" width="5" height="4" fill="#000"/>
<rect x="1404" y="149" width="1" height="38" fill="#000"/>
<rect x="1402" y="160" width="5" height="19" fill="#000"/>
<rect x="1403" y="161" width="3" height="17" fill="#fff"/>
<rect x="1412" y="130" width="1" height="41" fill="#000"/>
<rect x="1410" y="136" width="5" height="25" fill="#000"/>
<rect x="1411" y="137" width="3" height="23" fill="#fff"/>
<rect x="1420" y="111" width="1" height="30" fill="#000"/>
<rect x="1418" y="132" width="5" height="5" fill="#000"/>
<rect x="1419" y="133" width="3" height="3" fill="#fff"/>
<rect x="1428" y="135" width="1" height="12" fill="#000"/>
<rect x="1426" y="140" width="5" height="3" fill="#000"/>
<rect x="1436" y="132" width="1" height="29" fill="#000"/>
<rect x="1434" y="138" width="5" height="7" fill="#000"/>
<rect x="1435" y="139" width="3" height="5" fill="#fff"/>
<rect x="1444" y="81" width="1" height="61" fill="#000"/>
<rect x="1442" y="93" width="5" height="46" fill="#000"/>
<rect x="1443" y="94" width="3" height="44" fill="#fff"/>
</g>
<rect x="1392" y="104" width="123" height="6" fill="#00ff00" shape-rendering="crispEdges"/>
<line x1="1311.5" y1="305.5" x2="1375" y2="128" stroke="#ff2020" stroke-width="1"/>
<polygon points="1368.6,129.4 1379.6,119.3 1378.8,133.2" fill="#e01828"/>
<line x1="1380.5" y1="114" x2="1397" y2="182" stroke="#ff2020" stroke-width="1"/>
<polygon points="1391.5,182 1403,179 1400,190.5" fill="#e01828"/>
<line x1="1389" y1="180.5" x2="1465" y2="86.5" stroke="#ff0000" stroke-width="3" stroke-linecap="round"/>
<polygon points="1459.8,85.2 1471.8,79.3 1467.6,91.2" fill="#ff0000"/>
<rect x="1517.5" y="122.5" width="110" height="23.5" fill="none" stroke="#404040" stroke-width="1" shape-rendering="crispEdges"/>
<g fill="none" stroke="#00ff00" stroke-width="1.3" stroke-linecap="square" stroke-linejoin="miter">
<polyline points="1527.5,124.5 1519.5,130.5"/>
<polyline points="1526,127.5 1534.5,127.5 1525,133"/>
<polyline points="1525.5,129.5 1527.5,131"/>
<polyline points="1519,134.5 1526.5,132.3"/>
<polyline points="1527.7,132.6 1519.8,138.7"/>
<polyline points="1527.5,135.2 1535.5,135 1526.4,140.7 1519,142.3"/>
<polyline points="1525.7,137.4 1526.7,139.4"/>
<polyline points="1549.2,124.3 1550.2,126.5"/>
<polyline points="1541.2,129.7 1542,127.2 1557.8,127.2 1557,129.5"/>
<polyline points="1547,129.5 1541.5,134"/>
<polyline points="1551,129.5 1556.5,132.5"/>
<polyline points="1543,134.6 1556,134.6"/>
<polyline points="1549.5,134.6 1549.5,141.5"/>
<polyline points="1540.5,141.5 1558.5,141.5"/>
<polyline points="1562.1,127.4 1570,127.4"/>
<polyline points="1565.6,124.2 1563,132.9 1570,132.6"/>
<polyline points="1566.5,129.7 1566.7,142.6"/>
<polyline points="1562,138.4 1570.3,136.5"/>
<polyline points="1570.5,127.6 1580.4,127.6"/>
<polyline points="1570.5,132 1580.4,131.8"/>
<polyline points="1574.5,124.5 1572.8,136.3"/>
<polyline points="1570.5,136.3 1578.6,135.2 1575.5,139.4"/>
<polyline points="1571.7,138.7 1577.3,142.1"/>
<polyline points="1584.2,129.3 1590.8,129"/>
<polyline points="1588.3,124.5 1588.3,142.1 1587,142.5"/>
<polyline points="1584.2,135.2 1591.5,132.5"/>
<polyline points="1601.1,125.2 1594.2,126.6 1593.9,135.6 1590.4,142.1"/>
<polyline points="1594.2,131.4 1602.9,131.4"/>
<polyline points="1598.7,131.4 1598.7,142.5"/>
<polyline points="1615,124.5 1615,131.4"/>
<polyline points="1615,127.4 1623.6,127.4"/>
<polyline points="1609.8,131.4 1621.4,131.4 1621.4,136.3 1609.8,136.3 1609.8,131.4"/>
<polyline points="1609.1,140.1 1607.4,142.5"/>
<polyline points="1612.6,139.4 1613.6,141.5"/>
<polyline points="1617.4,139.4 1618.4,141.5"/>
<polyline points="1622.2,139 1623.6,141.5"/>
</g>
<rect x="1570.5" y="119.5" width="2" height="2" fill="none" stroke="#00ff00" stroke-width="1"/>
</g>
<g clip-path="url(#cmacd)">
<g shape-rendering="crispEdges" fill="#c0c0c0">
<rect x="4" y="616" width="1" height="45"/>
<rect x="12" y="617" width="1" height="44"/>
<rect x="20" y="622" width="1" height="39"/>
<rect x="28" y="630" width="1" height="31"/>
<rect x="36" y="643" width="1" height="18"/>
<rect x="44" y="658" width="1" height="3"/>
<rect x="52" y="661" width="1" height="9"/>
<rect x="60" y="661" width="1" height="10"/>
<rect x="68" y="661" width="1" height="12"/>
<rect x="76" y="661" width="1" height="16"/>
<rect x="84" y="661" width="1" height="17"/>
<rect x="92" y="661" width="1" height="22"/>
<rect x="100" y="661" width="1" height="26"/>
<rect x="108" y="661" width="1" height="28"/>
<rect x="116" y="661" width="1" height="22"/>
<rect x="124" y="661" width="1" height="18"/>
<rect x="132" y="661" width="1" height="13"/>
<rect x="140" y="661" width="1" height="9"/>
<rect x="148" y="661" width="1" height="5"/>
<rect x="156" y="661" width="1" height="2"/>
<rect x="164" y="658" width="1" height="3"/>
<rect x="172" y="651" width="1" height="10"/>
<rect x="180" y="647" width="1" height="14"/>
<rect x="188" y="645" width="1" height="16"/>
<rect x="196" y="643" width="1" height="18"/>
<rect x="204" y="643" width="1" height="18"/>
<rect x="212" y="643" width="1" height="18"/>
<rect x="220" y="645" width="1" height="16"/>
<rect x="228" y="645" width="1" height="16"/>
<rect x="236" y="647" width="1" height="14"/>
<rect x="244" y="648" width="1" height="13"/>
<rect x="252" y="643" width="1" height="18"/>
<rect x="260" y="639" width="1" height="22"/>
<rect x="268" y="634" width="1" height="27"/>
<rect x="276" y="632" width="1" height="29"/>
<rect x="284" y="632" width="1" height="29"/>
<rect x="292" y="633" width="1" height="28"/>
<rect x="300" y="634" width="1" height="27"/>
<rect x="308" y="634" width="1" height="27"/>
<rect x="316" y="632" width="1" height="29"/>
<rect x="324" y="626" width="1" height="35"/>
<rect x="332" y="616" width="1" height="45"/>
<rect x="340" y="608" width="1" height="53"/>
<rect x="348" y="603" width="1" height="58"/>
<rect x="356" y="601" width="1" height="60"/>
<rect x="364" y="599" width="1" height="62"/>
<rect x="372" y="598" width="1" height="63"/>
<rect x="380" y="599" width="1" height="62"/>
<rect x="388" y="602" width="1" height="59"/>
<rect x="396" y="602" width="1" height="59"/>
<rect x="404" y="601" width="1" height="60"/>
<rect x="412" y="599" width="1" height="62"/>
<rect x="420" y="597" width="1" height="64"/>
<rect x="428" y="597" width="1" height="64"/>
<rect x="436" y="597" width="1" height="64"/>
<rect x="444" y="601" width="1" height="60"/>
<rect x="452" y="602" width="1" height="59"/>
<rect x="460" y="606" width="1" height="55"/>
<rect x="468" y="607" width="1" height="54"/>
<rect x="476" y="613" width="1" height="48"/>
<rect x="484" y="618" width="1" height="43"/>
<rect x="492" y="623" width="1" height="38"/>
<rect x="500" y="621" width="1" height="40"/>
<rect x="508" y="620" width="1" height="41"/>
<rect x="516" y="615" width="1" height="46"/>
<rect x="524" y="613" width="1" height="48"/>
<rect x="532" y="610" width="1" height="51"/>
<rect x="540" y="605" width="1" height="56"/>
<rect x="548" y="601" width="1" height="60"/>
<rect x="556" y="599" width="1" height="62"/>
<rect x="564" y="603" width="1" height="58"/>
<rect x="572" y="605" width="1" height="56"/>
<rect x="580" y="608" width="1" height="53"/>
<rect x="588" y="616" width="1" height="45"/>
<rect x="596" y="634" width="1" height="27"/>
<rect x="604" y="645" width="1" height="16"/>
<rect x="612" y="661" width="1" height="3"/>
<rect x="620" y="661" width="1" height="19"/>
<rect x="628" y="661" width="1" height="30"/>
<rect x="636" y="661" width="1" height="39"/>
<rect x="644" y="661" width="1" height="46"/>
<rect x="652" y="661" width="1" height="49"/>
<rect x="660" y="661" width="1" height="53"/>
<rect x="668" y="661" width="1" height="58"/>
<rect x="676" y="661" width="1" height="61"/>
<rect x="684" y="661" width="1" height="67"/>
<rect x="692" y="661" width="1" height="73"/>
<rect x="700" y="661" width="1" height="77"/>
<rect x="708" y="661" width="1" height="76"/>
<rect x="716" y="661" width="1" height="75"/>
<rect x="724" y="661" width="1" height="71"/>
<rect x="732" y="661" width="1" height="63"/>
<rect x="740" y="661" width="1" height="55"/>
<rect x="748" y="661" width="1" height="47"/>
<rect x="756" y="661" width="1" height="41"/>
<rect x="764" y="661" width="1" height="35"/>
<rect x="772" y="661" width="1" height="29"/>
<rect x="780" y="661" width="1" height="19"/>
<rect x="788" y="661" width="1" height="17"/>
<rect x="796" y="661" width="1" height="12"/>
<rect x="804" y="661" width="1" height="7"/>
<rect x="812" y="661" width="1" height="1"/>
<rect x="820" y="656" width="1" height="5"/>
<rect x="828" y="652" width="1" height="9"/>
<rect x="836" y="654" width="1" height="7"/>
<rect x="844" y="655" width="1" height="6"/>
<rect x="852" y="659" width="1" height="2"/>
<rect x="860" y="661" width="1" height="1"/>
<rect x="868" y="661" width="1" height="1"/>
<rect x="876" y="661" width="1" height="1"/>
<rect x="884" y="661" width="1" height="1"/>
<rect x="892" y="658" width="1" height="3"/>
<rect x="900" y="656" width="1" height="5"/>
<rect x="908" y="657" width="1" height="4"/>
<rect x="916" y="658" width="1" height="3"/>
<rect x="924" y="659" width="1" height="2"/>
<rect x="932" y="661" width="1" height="1"/>
<rect x="940" y="661" width="1" height="6"/>
<rect x="948" y="661" width="1" height="11"/>
<rect x="956" y="661" width="1" height="13"/>
<rect x="964" y="661" width="1" height="17"/>
<rect x="972" y="661" width="1" height="18"/>
<rect x="980" y="661" width="1" height="11"/>
<rect x="988" y="661" width="1" height="14"/>
<rect x="996" y="661" width="1" height="12"/>
<rect x="1004" y="661" width="1" height="12"/>
<rect x="1012" y="661" width="1" height="10"/>
<rect x="1020" y="659" width="1" height="2"/>
<rect x="1028" y="644" width="1" height="17"/>
<rect x="1036" y="634" width="1" height="27"/>
<rect x="1044" y="633" width="1" height="28"/>
<rect x="1052" y="633" width="1" height="28"/>
<rect x="1060" y="630" width="1" height="31"/>
<rect x="1068" y="629" width="1" height="32"/>
<rect x="1076" y="630" width="1" height="31"/>
<rect x="1084" y="632" width="1" height="29"/>
<rect x="1092" y="635" width="1" height="26"/>
<rect x="1100" y="636" width="1" height="25"/>
<rect x="1108" y="636" width="1" height="25"/>
<rect x="1116" y="631" width="1" height="30"/>
<rect x="1124" y="626" width="1" height="35"/>
<rect x="1132" y="621" width="1" height="40"/>
<rect x="1140" y="621" width="1" height="40"/>
<rect x="1148" y="625" width="1" height="36"/>
<rect x="1156" y="627" width="1" height="34"/>
<rect x="1164" y="627" width="1" height="34"/>
<rect x="1172" y="623" width="1" height="38"/>
<rect x="1180" y="623" width="1" height="38"/>
<rect x="1188" y="622" width="1" height="39"/>
<rect x="1196" y="621" width="1" height="40"/>
<rect x="1204" y="622" width="1" height="39"/>
<rect x="1212" y="626" width="1" height="35"/>
<rect x="1220" y="629" width="1" height="32"/>
<rect x="1228" y="631" width="1" height="30"/>
<rect x="1236" y="636" width="1" height="25"/>
<rect x="1244" y="646" width="1" height="15"/>
<rect x="1252" y="649" width="1" height="12"/>
<rect x="1260" y="651" width="1" height="10"/>
<rect x="1268" y="649" width="1" height="12"/>
<rect x="1276" y="646" width="1" height="15"/>
<rect x="1284" y="643" width="1" height="18"/>
<rect x="1292" y="642" width="1" height="19"/>
<rect x="1300" y="646" width="1" height="15"/>
<rect x="1308" y="648" width="1" height="13"/>
<rect x="1316" y="651" width="1" height="10"/>
<rect x="1324" y="648" width="1" height="13"/>
<rect x="1332" y="643" width="1" height="18"/>
<rect x="1340" y="639" width="1" height="22"/>
<rect x="1348" y="640" width="1" height="21"/>
<rect x="1356" y="641" width="1" height="20"/>
<rect x="1364" y="638" width="1" height="23"/>
<rect x="1372" y="634" width="1" height="27"/>
<rect x="1380" y="629" width="1" height="32"/>
<rect x="1388" y="632" width="1" height="29"/>
<rect x="1396" y="635" width="1" height="26"/>
<rect x="1404" y="636" width="1" height="25"/>
<rect x="1412" y="634" width="1" height="27"/>
<rect x="1420" y="633" width="1" height="28"/>
<rect x="1428" y="633" width="1" height="28"/>
<rect x="1436" y="633" width="1" height="28"/>
<rect x="1444" y="629" width="1" height="32"/>
</g>
<polyline fill="none" stroke="#ff0000" stroke-width="1" stroke-dasharray="3,3" shape-rendering="crispEdges" points="-3.5,582.0 4.5,584.5 12.5,587.5 20.5,592.0 28.5,598.0 36.5,606.5 44.5,615.7 52.5,627.0 60.5,636.0 68.5,644.4 76.5,651.2 84.5,658.1 92.5,665.0 100.5,671.2 108.5,676.3 116.5,679.1 124.5,680.1 132.5,680.5 140.5,680.1 148.5,678.9 156.5,677.2 164.5,674.3 172.5,670.4 180.5,665.7 188.5,661.4 196.5,657.4 204.5,654.0 212.5,651.1 220.5,648.7 228.5,646.6 236.5,645.5 244.5,645.1 252.5,644.7 260.5,644.0 268.5,643.0 276.5,641.7 284.5,640.4 292.5,639.2 300.5,638.0 308.5,636.5 316.5,634.8 324.5,632.9 332.5,630.4 340.5,627.6 348.5,624.4 356.5,621.0 364.5,617.2 372.5,613.1 380.5,609.3 388.5,605.9 396.5,603.2 404.5,601.5 412.5,600.5 420.5,599.8 428.5,599.3 436.5,599.1 444.5,599.4 452.5,599.8 460.5,600.3 468.5,600.8 476.5,602.1 484.5,604.2 492.5,607.1 500.5,609.8 508.5,612.3 516.5,613.9 524.5,615.1 532.5,615.5 540.5,615.4 548.5,614.1 556.5,611.9 564.5,609.7 572.5,607.9 580.5,606.6 588.5,606.7 596.5,609.0 604.5,613.0 612.5,619.5 620.5,628.3 628.5,638.6 636.5,649.4 644.5,660.8 652.5,672.1 660.5,683.0 668.5,692.4 676.5,700.9 684.5,708.0 692.5,714.0 700.5,719.1 708.5,723.2 716.5,726.4 724.5,728.9 732.5,730.0 740.5,729.8 748.5,728.3 756.5,725.4 764.5,721.1 772.5,715.7 780.5,709.4 788.5,703.1 796.5,696.5 804.5,690.2 812.5,684.0 820.5,678.2 828.5,672.5 836.5,668.0 844.5,664.1 852.5,661.7 860.5,659.8 868.5,658.6 876.5,658.0 884.5,658.1 892.5,658.3 900.5,658.8 908.5,659.1 916.5,659.4 924.5,659.4 932.5,659.5 940.5,659.9 948.5,661.0 956.5,662.4 964.5,664.6 972.5,667.3 980.5,669.0 988.5,670.8 996.5,672.3 1004.5,673.6 1012.5,674.1 1020.5,672.7 1028.5,669.4 1036.5,664.5 1044.5,659.3 1052.5,654.9 1060.5,650.0 1068.5,645.1 1076.5,640.3 1084.5,636.0 1092.5,633.4 1100.5,632.5 1108.5,632.8 1116.5,632.6 1124.5,631.8 1132.5,630.9 1140.5,629.9 1148.5,629.4 1156.5,628.8 1164.5,627.8 1172.5,626.4 1180.5,624.9 1188.5,623.9 1196.5,623.4 1204.5,623.4 1212.5,624.0 1220.5,624.5 1228.5,624.9 1236.5,626.0 1244.5,628.4 1252.5,631.3 1260.5,634.5 1268.5,637.6 1276.5,640.3 1284.5,642.1 1292.5,643.5 1300.5,645.2 1308.5,646.5 1316.5,647.1 1324.5,646.9 1332.5,646.1 1340.5,645.0 1348.5,644.3 1356.5,644.1 1364.5,643.6 1372.5,642.2 1380.5,640.1 1388.5,638.1 1396.5,636.8 1404.5,636.0 1412.5,635.5 1420.5,634.7 1428.5,633.9 1436.5,633.5 1444.5,633.0"/>
</g>
<g clip-path="url(#crsi)">
<g shape-rendering="crispEdges" fill="#c0c0c0">
<rect x="3" y="784" width="3" height="1"/>
<rect x="9" y="784" width="3" height="1"/>
<rect x="15" y="784" width="3" height="1"/>
<rect x="21" y="784" width="3" height="1"/>
<rect x="27" y="784" width="3" height="1"/>
<rect x="33" y="784" width="3" height="1"/>
<rect x="39" y="784" width="3" height="1"/>
<rect x="45" y="784" width="3" height="1"/>
<rect x="51" y="784" width="3" height="1"/>
<rect x="57" y="784" width="3" height="1"/>
<rect x="63" y="784" width="3" height="1"/>
<rect x="69" y="784" width="3" height="1"/>
<rect x="75" y="784" width="3" height="1"/>
<rect x="81" y="784" width="3" height="1"/>
<rect x="87" y="784" width="3" height="1"/>
<rect x="93" y="784" width="3" height="1"/>
<rect x="99" y="784" width="3" height="1"/>
<rect x="105" y="784" width="3" height="1"/>
<rect x="111" y="784" width="3" height="1"/>
<rect x="117" y="784" width="3" height="1"/>
<rect x="123" y="784" width="3" height="1"/>
<rect x="129" y="784" width="3" height="1"/>
<rect x="135" y="784" width="3" height="1"/>
<rect x="141" y="784" width="3" height="1"/>
<rect x="147" y="784" width="3" height="1"/>
<rect x="153" y="784" width="3" height="1"/>
<rect x="159" y="784" width="3" height="1"/>
<rect x="165" y="784" width="3" height="1"/>
<rect x="171" y="784" width="3" height="1"/>
<rect x="177" y="784" width="3" height="1"/>
<rect x="183" y="784" width="3" height="1"/>
<rect x="189" y="784" width="3" height="1"/>
<rect x="195" y="784" width="3" height="1"/>
<rect x="201" y="784" width="3" height="1"/>
<rect x="207" y="784" width="3" height="1"/>
<rect x="213" y="784" width="3" height="1"/>
<rect x="219" y="784" width="3" height="1"/>
<rect x="225" y="784" width="3" height="1"/>
<rect x="231" y="784" width="3" height="1"/>
<rect x="237" y="784" width="3" height="1"/>
<rect x="243" y="784" width="3" height="1"/>
<rect x="249" y="784" width="3" height="1"/>
<rect x="255" y="784" width="3" height="1"/>
<rect x="261" y="784" width="3" height="1"/>
<rect x="267" y="784" width="3" height="1"/>
<rect x="273" y="784" width="3" height="1"/>
<rect x="279" y="784" width="3" height="1"/>
<rect x="285" y="784" width="3" height="1"/>
<rect x="291" y="784" width="3" height="1"/>
<rect x="297" y="784" width="3" height="1"/>
<rect x="303" y="784" width="3" height="1"/>
<rect x="309" y="784" width="3" height="1"/>
<rect x="315" y="784" width="3" height="1"/>
<rect x="321" y="784" width="3" height="1"/>
<rect x="327" y="784" width="3" height="1"/>
<rect x="333" y="784" width="3" height="1"/>
<rect x="339" y="784" width="3" height="1"/>
<rect x="345" y="784" width="3" height="1"/>
<rect x="351" y="784" width="3" height="1"/>
<rect x="357" y="784" width="3" height="1"/>
<rect x="363" y="784" width="3" height="1"/>
<rect x="369" y="784" width="3" height="1"/>
<rect x="375" y="784" width="3" height="1"/>
<rect x="381" y="784" width="3" height="1"/>
<rect x="387" y="784" width="3" height="1"/>
<rect x="393" y="784" width="3" height="1"/>
<rect x="399" y="784" width="3" height="1"/>
<rect x="405" y="784" width="3" height="1"/>
<rect x="411" y="784" width="3" height="1"/>
<rect x="417" y="784" width="3" height="1"/>
<rect x="423" y="784" width="3" height="1"/>
<rect x="429" y="784" width="3" height="1"/>
<rect x="435" y="784" width="3" height="1"/>
<rect x="441" y="784" width="3" height="1"/>
<rect x="447" y="784" width="3" height="1"/>
<rect x="453" y="784" width="3" height="1"/>
<rect x="459" y="784" width="3" height="1"/>
<rect x="465" y="784" width="3" height="1"/>
<rect x="471" y="784" width="3" height="1"/>
<rect x="477" y="784" width="3" height="1"/>
<rect x="483" y="784" width="3" height="1"/>
<rect x="489" y="784" width="3" height="1"/>
<rect x="495" y="784" width="3" height="1"/>
<rect x="501" y="784" width="3" height="1"/>
<rect x="507" y="784" width="3" height="1"/>
<rect x="513" y="784" width="3" height="1"/>
<rect x="519" y="784" width="3" height="1"/>
<rect x="525" y="784" width="3" height="1"/>
<rect x="531" y="784" width="3" height="1"/>
<rect x="537" y="784" width="3" height="1"/>
<rect x="543" y="784" width="3" height="1"/>
<rect x="549" y="784" width="3" height="1"/>
<rect x="555" y="784" width="3" height="1"/>
<rect x="561" y="784" width="3" height="1"/>
<rect x="567" y="784" width="3" height="1"/>
<rect x="573" y="784" width="3" height="1"/>
<rect x="579" y="784" width="3" height="1"/>
<rect x="585" y="784" width="3" height="1"/>
<rect x="591" y="784" width="3" height="1"/>
<rect x="597" y="784" width="3" height="1"/>
<rect x="603" y="784" width="3" height="1"/>
<rect x="609" y="784" width="3" height="1"/>
<rect x="615" y="784" width="3" height="1"/>
<rect x="621" y="784" width="3" height="1"/>
<rect x="627" y="784" width="3" height="1"/>
<rect x="633" y="784" width="3" height="1"/>
<rect x="639" y="784" width="3" height="1"/>
<rect x="645" y="784" width="3" height="1"/>
<rect x="651" y="784" width="3" height="1"/>
<rect x="657" y="784" width="3" height="1"/>
<rect x="663" y="784" width="3" height="1"/>
<rect x="669" y="784" width="3" height="1"/>
<rect x="675" y="784" width="3" height="1"/>
<rect x="681" y="784" width="3" height="1"/>
<rect x="687" y="784" width="3" height="1"/>
<rect x="693" y="784" width="3" height="1"/>
<rect x="699" y="784" width="3" height="1"/>
<rect x="705" y="784" width="3" height="1"/>
<rect x="711" y="784" width="3" height="1"/>
<rect x="717" y="784" width="3" height="1"/>
<rect x="723" y="784" width="3" height="1"/>
<rect x="729" y="784" width="3" height="1"/>
<rect x="735" y="784" width="3" height="1"/>
<rect x="741" y="784" width="3" height="1"/>
<rect x="747" y="784" width="3" height="1"/>
<rect x="753" y="784" width="3" height="1"/>
<rect x="759" y="784" width="3" height="1"/>
<rect x="765" y="784" width="3" height="1"/>
<rect x="771" y="784" width="3" height="1"/>
<rect x="777" y="784" width="3" height="1"/>
<rect x="783" y="784" width="3" height="1"/>
<rect x="789" y="784" width="3" height="1"/>
<rect x="795" y="784" width="3" height="1"/>
<rect x="801" y="784" width="3" height="1"/>
<rect x="807" y="784" width="3" height="1"/>
<rect x="813" y="784" width="3" height="1"/>
<rect x="819" y="784" width="3" height="1"/>
<rect x="825" y="784" width="3" height="1"/>
<rect x="831" y="784" width="3" height="1"/>
<rect x="837" y="784" width="3" height="1"/>
<rect x="843" y="784" width="3" height="1"/>
<rect x="849" y="784" width="3" height="1"/>
<rect x="855" y="784" width="3" height="1"/>
<rect x="861" y="784" width="3" height="1"/>
<rect x="867" y="784" width="3" height="1"/>
<rect x="873" y="784" width="3" height="1"/>
<rect x="879" y="784" width="3" height="1"/>
<rect x="885" y="784" width="3" height="1"/>
<rect x="891" y="784" width="3" height="1"/>
<rect x="897" y="784" width="3" height="1"/>
<rect x="903" y="784" width="3" height="1"/>
<rect x="909" y="784" width="3" height="1"/>
<rect x="915" y="784" width="3" height="1"/>
<rect x="921" y="784" width="3" height="1"/>
<rect x="927" y="784" width="3" height="1"/>
<rect x="933" y="784" width="3" height="1"/>
<rect x="939" y="784" width="3" height="1"/>
<rect x="945" y="784" width="3" height="1"/>
<rect x="951" y="784" width="3" height="1"/>
<rect x="957" y="784" width="3" height="1"/>
<rect x="963" y="784" width="3" height="1"/>
<rect x="969" y="784" width="3" height="1"/>
<rect x="975" y="784" width="3" height="1"/>
<rect x="981" y="784" width="3" height="1"/>
<rect x="987" y="784" width="3" height="1"/>
<rect x="993" y="784" width="3" height="1"/>
<rect x="999" y="784" width="3" height="1"/>
<rect x="1005" y="784" width="3" height="1"/>
<rect x="1011" y="784" width="3" height="1"/>
<rect x="1017" y="784" width="3" height="1"/>
<rect x="1023" y="784" width="3" height="1"/>
<rect x="1029" y="784" width="3" height="1"/>
<rect x="1035" y="784" width="3" height="1"/>
<rect x="1041" y="784" width="3" height="1"/>
<rect x="1047" y="784" width="3" height="1"/>
<rect x="1053" y="784" width="3" height="1"/>
<rect x="1059" y="784" width="3" height="1"/>
<rect x="1065" y="784" width="3" height="1"/>
<rect x="1071" y="784" width="3" height="1"/>
<rect x="1077" y="784" width="3" height="1"/>
<rect x="1083" y="784" width="3" height="1"/>
<rect x="1089" y="784" width="3" height="1"/>
<rect x="1095" y="784" width="3" height="1"/>
<rect x="1101" y="784" width="3" height="1"/>
<rect x="1107" y="784" width="3" height="1"/>
<rect x="1113" y="784" width="3" height="1"/>
<rect x="1119" y="784" width="3" height="1"/>
<rect x="1125" y="784" width="3" height="1"/>
<rect x="1131" y="784" width="3" height="1"/>
<rect x="1137" y="784" width="3" height="1"/>
<rect x="1143" y="784" width="3" height="1"/>
<rect x="1149" y="784" width="3" height="1"/>
<rect x="1155" y="784" width="3" height="1"/>
<rect x="1161" y="784" width="3" height="1"/>
<rect x="1167" y="784" width="3" height="1"/>
<rect x="1173" y="784" width="3" height="1"/>
<rect x="1179" y="784" width="3" height="1"/>
<rect x="1185" y="784" width="3" height="1"/>
<rect x="1191" y="784" width="3" height="1"/>
<rect x="1197" y="784" width="3" height="1"/>
<rect x="1203" y="784" width="3" height="1"/>
<rect x="1209" y="784" width="3" height="1"/>
<rect x="1215" y="784" width="3" height="1"/>
<rect x="1221" y="784" width="3" height="1"/>
<rect x="1227" y="784" width="3" height="1"/>
<rect x="1233" y="784" width="3" height="1"/>
<rect x="1239" y="784" width="3" height="1"/>
<rect x="1245" y="784" width="3" height="1"/>
<rect x="1251" y="784" width="3" height="1"/>
<rect x="1257" y="784" width="3" height="1"/>
<rect x="1263" y="784" width="3" height="1"/>
<rect x="1269" y="784" width="3" height="1"/>
<rect x="1275" y="784" width="3" height="1"/>
<rect x="1281" y="784" width="3" height="1"/>
<rect x="1287" y="784" width="3" height="1"/>
<rect x="1293" y="784" width="3" height="1"/>
<rect x="1299" y="784" width="3" height="1"/>
<rect x="1305" y="784" width="3" height="1"/>
<rect x="1311" y="784" width="3" height="1"/>
<rect x="1317" y="784" width="3" height="1"/>
<rect x="1323" y="784" width="3" height="1"/>
<rect x="1329" y="784" width="3" height="1"/>
<rect x="1335" y="784" width="3" height="1"/>
<rect x="1341" y="784" width="3" height="1"/>
<rect x="1347" y="784" width="3" height="1"/>
<rect x="1353" y="784" width="3" height="1"/>
<rect x="1359" y="784" width="3" height="1"/>
<rect x="1365" y="784" width="3" height="1"/>
<rect x="1371" y="784" width="3" height="1"/>
<rect x="1377" y="784" width="3" height="1"/>
<rect x="1383" y="784" width="3" height="1"/>
<rect x="1389" y="784" width="3" height="1"/>
<rect x="1395" y="784" width="3" height="1"/>
<rect x="1401" y="784" width="3" height="1"/>
<rect x="1407" y="784" width="3" height="1"/>
<rect x="1413" y="784" width="3" height="1"/>
<rect x="1419" y="784" width="3" height="1"/>
<rect x="1425" y="784" width="3" height="1"/>
<rect x="1431" y="784" width="3" height="1"/>
<rect x="1437" y="784" width="3" height="1"/>
<rect x="1443" y="784" width="3" height="1"/>
<rect x="1449" y="784" width="3" height="1"/>
<rect x="1455" y="784" width="3" height="1"/>
<rect x="1461" y="784" width="3" height="1"/>
<rect x="1467" y="784" width="3" height="1"/>
<rect x="1473" y="784" width="3" height="1"/>
<rect x="1479" y="784" width="3" height="1"/>
<rect x="1485" y="784" width="3" height="1"/>
<rect x="1491" y="784" width="3" height="1"/>
<rect x="1497" y="784" width="3" height="1"/>
<rect x="1503" y="784" width="3" height="1"/>
<rect x="1509" y="784" width="3" height="1"/>
<rect x="1515" y="784" width="3" height="1"/>
<rect x="1521" y="784" width="3" height="1"/>
<rect x="1527" y="784" width="3" height="1"/>
<rect x="1533" y="784" width="3" height="1"/>
<rect x="1539" y="784" width="3" height="1"/>
<rect x="1545" y="784" width="3" height="1"/>
<rect x="1551" y="784" width="3" height="1"/>
<rect x="1557" y="784" width="3" height="1"/>
<rect x="1563" y="784" width="3" height="1"/>
<rect x="1569" y="784" width="3" height="1"/>
<rect x="1575" y="784" width="3" height="1"/>
<rect x="1581" y="784" width="3" height="1"/>
<rect x="1587" y="784" width="3" height="1"/>
<rect x="1593" y="784" width="3" height="1"/>
<rect x="1599" y="784" width="3" height="1"/>
<rect x="1605" y="784" width="3" height="1"/>
<rect x="1611" y="784" width="3" height="1"/>
<rect x="1617" y="784" width="3" height="1"/>
<rect x="1623" y="784" width="3" height="1"/>
<rect x="1629" y="784" width="3" height="1"/>
<rect x="1635" y="784" width="3" height="1"/>
<rect x="1641" y="784" width="3" height="1"/>
<rect x="1647" y="784" width="3" height="1"/>
<rect x="1653" y="784" width="3" height="1"/>
<rect x="1659" y="784" width="3" height="1"/>
<rect x="1665" y="784" width="3" height="1"/>
<rect x="1671" y="784" width="3" height="1"/>
<rect x="1677" y="784" width="3" height="1"/>
<rect x="1683" y="784" width="3" height="1"/>
<rect x="3" y="835" width="3" height="1"/>
<rect x="9" y="835" width="3" height="1"/>
<rect x="15" y="835" width="3" height="1"/>
<rect x="21" y="835" width="3" height="1"/>
<rect x="27" y="835" width="3" height="1"/>
<rect x="33" y="835" width="3" height="1"/>
<rect x="39" y="835" width="3" height="1"/>
<rect x="45" y="835" width="3" height="1"/>
<rect x="51" y="835" width="3" height="1"/>
<rect x="57" y="835" width="3" height="1"/>
<rect x="63" y="835" width="3" height="1"/>
<rect x="69" y="835" width="3" height="1"/>
<rect x="75" y="835" width="3" height="1"/>
<rect x="81" y="835" width="3" height="1"/>
<rect x="87" y="835" width="3" height="1"/>
<rect x="93" y="835" width="3" height="1"/>
<rect x="99" y="835" width="3" height="1"/>
<rect x="105" y="835" width="3" height="1"/>
<rect x="111" y="835" width="3" height="1"/>
<rect x="117" y="835" width="3" height="1"/>
<rect x="123" y="835" width="3" height="1"/>
<rect x="129" y="835" width="3" height="1"/>
<rect x="135" y="835" width="3" height="1"/>
<rect x="141" y="835" width="3" height="1"/>
<rect x="147" y="835" width="3" height="1"/>
<rect x="153" y="835" width="3" height="1"/>
<rect x="159" y="835" width="3" height="1"/>
<rect x="165" y="835" width="3" height="1"/>
<rect x="171" y="835" width="3" height="1"/>
<rect x="177" y="835" width="3" height="1"/>
<rect x="183" y="835" width="3" height="1"/>
<rect x="189" y="835" width="3" height="1"/>
<rect x="195" y="835" width="3" height="1"/>
<rect x="201" y="835" width="3" height="1"/>
<rect x="207" y="835" width="3" height="1"/>
<rect x="213" y="835" width="3" height="1"/>
<rect x="219" y="835" width="3" height="1"/>
<rect x="225" y="835" width="3" height="1"/>
<rect x="231" y="835" width="3" height="1"/>
<rect x="237" y="835" width="3" height="1"/>
<rect x="243" y="835" width="3" height="1"/>
<rect x="249" y="835" width="3" height="1"/>
<rect x="255" y="835" width="3" height="1"/>
<rect x="261" y="835" width="3" height="1"/>
<rect x="267" y="835" width="3" height="1"/>
<rect x="273" y="835" width="3" height="1"/>
<rect x="279" y="835" width="3" height="1"/>
<rect x="285" y="835" width="3" height="1"/>
<rect x="291" y="835" width="3" height="1"/>
<rect x="297" y="835" width="3" height="1"/>
<rect x="303" y="835" width="3" height="1"/>
<rect x="309" y="835" width="3" height="1"/>
<rect x="315" y="835" width="3" height="1"/>
<rect x="321" y="835" width="3" height="1"/>
<rect x="327" y="835" width="3" height="1"/>
<rect x="333" y="835" width="3" height="1"/>
<rect x="339" y="835" width="3" height="1"/>
<rect x="345" y="835" width="3" height="1"/>
<rect x="351" y="835" width="3" height="1"/>
<rect x="357" y="835" width="3" height="1"/>
<rect x="363" y="835" width="3" height="1"/>
<rect x="369" y="835" width="3" height="1"/>
<rect x="375" y="835" width="3" height="1"/>
<rect x="381" y="835" width="3" height="1"/>
<rect x="387" y="835" width="3" height="1"/>
<rect x="393" y="835" width="3" height="1"/>
<rect x="399" y="835" width="3" height="1"/>
<rect x="405" y="835" width="3" height="1"/>
<rect x="411" y="835" width="3" height="1"/>
<rect x="417" y="835" width="3" height="1"/>
<rect x="423" y="835" width="3" height="1"/>
<rect x="429" y="835" width="3" height="1"/>
<rect x="435" y="835" width="3" height="1"/>
<rect x="441" y="835" width="3" height="1"/>
<rect x="447" y="835" width="3" height="1"/>
<rect x="453" y="835" width="3" height="1"/>
<rect x="459" y="835" width="3" height="1"/>
<rect x="465" y="835" width="3" height="1"/>
<rect x="471" y="835" width="3" height="1"/>
<rect x="477" y="835" width="3" height="1"/>
<rect x="483" y="835" width="3" height="1"/>
<rect x="489" y="835" width="3" height="1"/>
<rect x="495" y="835" width="3" height="1"/>
<rect x="501" y="835" width="3" height="1"/>
<rect x="507" y="835" width="3" height="1"/>
<rect x="513" y="835" width="3" height="1"/>
<rect x="519" y="835" width="3" height="1"/>
<rect x="525" y="835" width="3" height="1"/>
<rect x="531" y="835" width="3" height="1"/>
<rect x="537" y="835" width="3" height="1"/>
<rect x="543" y="835" width="3" height="1"/>
<rect x="549" y="835" width="3" height="1"/>
<rect x="555" y="835" width="3" height="1"/>
<rect x="561" y="835" width="3" height="1"/>
<rect x="567" y="835" width="3" height="1"/>
<rect x="573" y="835" width="3" height="1"/>
<rect x="579" y="835" width="3" height="1"/>
<rect x="585" y="835" width="3" height="1"/>
<rect x="591" y="835" width="3" height="1"/>
<rect x="597" y="835" width="3" height="1"/>
<rect x="603" y="835" width="3" height="1"/>
<rect x="609" y="835" width="3" height="1"/>
<rect x="615" y="835" width="3" height="1"/>
<rect x="621" y="835" width="3" height="1"/>
<rect x="627" y="835" width="3" height="1"/>
<rect x="633" y="835" width="3" height="1"/>
<rect x="639" y="835" width="3" height="1"/>
<rect x="645" y="835" width="3" height="1"/>
<rect x="651" y="835" width="3" height="1"/>
<rect x="657" y="835" width="3" height="1"/>
<rect x="663" y="835" width="3" height="1"/>
<rect x="669" y="835" width="3" height="1"/>
<rect x="675" y="835" width="3" height="1"/>
<rect x="681" y="835" width="3" height="1"/>
<rect x="687" y="835" width="3" height="1"/>
<rect x="693" y="835" width="3" height="1"/>
<rect x="699" y="835" width="3" height="1"/>
<rect x="705" y="835" width="3" height="1"/>
<rect x="711" y="835" width="3" height="1"/>
<rect x="717" y="835" width="3" height="1"/>
<rect x="723" y="835" width="3" height="1"/>
<rect x="729" y="835" width="3" height="1"/>
<rect x="735" y="835" width="3" height="1"/>
<rect x="741" y="835" width="3" height="1"/>
<rect x="747" y="835" width="3" height="1"/>
<rect x="753" y="835" width="3" height="1"/>
<rect x="759" y="835" width="3" height="1"/>
<rect x="765" y="835" width="3" height="1"/>
<rect x="771" y="835" width="3" height="1"/>
<rect x="777" y="835" width="3" height="1"/>
<rect x="783" y="835" width="3" height="1"/>
<rect x="789" y="835" width="3" height="1"/>
<rect x="795" y="835" width="3" height="1"/>
<rect x="801" y="835" width="3" height="1"/>
<rect x="807" y="835" width="3" height="1"/>
<rect x="813" y="835" width="3" height="1"/>
<rect x="819" y="835" width="3" height="1"/>
<rect x="825" y="835" width="3" height="1"/>
<rect x="831" y="835" width="3" height="1"/>
<rect x="837" y="835" width="3" height="1"/>
<rect x="843" y="835" width="3" height="1"/>
<rect x="849" y="835" width="3" height="1"/>
<rect x="855" y="835" width="3" height="1"/>
<rect x="861" y="835" width="3" height="1"/>
<rect x="867" y="835" width="3" height="1"/>
<rect x="873" y="835" width="3" height="1"/>
<rect x="879" y="835" width="3" height="1"/>
<rect x="885" y="835" width="3" height="1"/>
<rect x="891" y="835" width="3" height="1"/>
<rect x="897" y="835" width="3" height="1"/>
<rect x="903" y="835" width="3" height="1"/>
<rect x="909" y="835" width="3" height="1"/>
<rect x="915" y="835" width="3" height="1"/>
<rect x="921" y="835" width="3" height="1"/>
<rect x="927" y="835" width="3" height="1"/>
<rect x="933" y="835" width="3" height="1"/>
<rect x="939" y="835" width="3" height="1"/>
<rect x="945" y="835" width="3" height="1"/>
<rect x="951" y="835" width="3" height="1"/>
<rect x="957" y="835" width="3" height="1"/>
<rect x="963" y="835" width="3" height="1"/>
<rect x="969" y="835" width="3" height="1"/>
<rect x="975" y="835" width="3" height="1"/>
<rect x="981" y="835" width="3" height="1"/>
<rect x="987" y="835" width="3" height="1"/>
<rect x="993" y="835" width="3" height="1"/>
<rect x="999" y="835" width="3" height="1"/>
<rect x="1005" y="835" width="3" height="1"/>
<rect x="1011" y="835" width="3" height="1"/>
<rect x="1017" y="835" width="3" height="1"/>
<rect x="1023" y="835" width="3" height="1"/>
<rect x="1029" y="835" width="3" height="1"/>
<rect x="1035" y="835" width="3" height="1"/>
<rect x="1041" y="835" width="3" height="1"/>
<rect x="1047" y="835" width="3" height="1"/>
<rect x="1053" y="835" width="3" height="1"/>
<rect x="1059" y="835" width="3" height="1"/>
<rect x="1065" y="835" width="3" height="1"/>
<rect x="1071" y="835" width="3" height="1"/>
<rect x="1077" y="835" width="3" height="1"/>
<rect x="1083" y="835" width="3" height="1"/>
<rect x="1089" y="835" width="3" height="1"/>
<rect x="1095" y="835" width="3" height="1"/>
<rect x="1101" y="835" width="3" height="1"/>
<rect x="1107" y="835" width="3" height="1"/>
<rect x="1113" y="835" width="3" height="1"/>
<rect x="1119" y="835" width="3" height="1"/>
<rect x="1125" y="835" width="3" height="1"/>
<rect x="1131" y="835" width="3" height="1"/>
<rect x="1137" y="835" width="3" height="1"/>
<rect x="1143" y="835" width="3" height="1"/>
<rect x="1149" y="835" width="3" height="1"/>
<rect x="1155" y="835" width="3" height="1"/>
<rect x="1161" y="835" width="3" height="1"/>
<rect x="1167" y="835" width="3" height="1"/>
<rect x="1173" y="835" width="3" height="1"/>
<rect x="1179" y="835" width="3" height="1"/>
<rect x="1185" y="835" width="3" height="1"/>
<rect x="1191" y="835" width="3" height="1"/>
<rect x="1197" y="835" width="3" height="1"/>
<rect x="1203" y="835" width="3" height="1"/>
<rect x="1209" y="835" width="3" height="1"/>
<rect x="1215" y="835" width="3" height="1"/>
<rect x="1221" y="835" width="3" height="1"/>
<rect x="1227" y="835" width="3" height="1"/>
<rect x="1233" y="835" width="3" height="1"/>
<rect x="1239" y="835" width="3" height="1"/>
<rect x="1245" y="835" width="3" height="1"/>
<rect x="1251" y="835" width="3" height="1"/>
<rect x="1257" y="835" width="3" height="1"/>
<rect x="1263" y="835" width="3" height="1"/>
<rect x="1269" y="835" width="3" height="1"/>
<rect x="1275" y="835" width="3" height="1"/>
<rect x="1281" y="835" width="3" height="1"/>
<rect x="1287" y="835" width="3" height="1"/>
<rect x="1293" y="835" width="3" height="1"/>
<rect x="1299" y="835" width="3" height="1"/>
<rect x="1305" y="835" width="3" height="1"/>
<rect x="1311" y="835" width="3" height="1"/>
<rect x="1317" y="835" width="3" height="1"/>
<rect x="1323" y="835" width="3" height="1"/>
<rect x="1329" y="835" width="3" height="1"/>
<rect x="1335" y="835" width="3" height="1"/>
<rect x="1341" y="835" width="3" height="1"/>
<rect x="1347" y="835" width="3" height="1"/>
<rect x="1353" y="835" width="3" height="1"/>
<rect x="1359" y="835" width="3" height="1"/>
<rect x="1365" y="835" width="3" height="1"/>
<rect x="1371" y="835" width="3" height="1"/>
<rect x="1377" y="835" width="3" height="1"/>
<rect x="1383" y="835" width="3" height="1"/>
<rect x="1389" y="835" width="3" height="1"/>
<rect x="1395" y="835" width="3" height="1"/>
<rect x="1401" y="835" width="3" height="1"/>
<rect x="1407" y="835" width="3" height="1"/>
<rect x="1413" y="835" width="3" height="1"/>
<rect x="1419" y="835" width="3" height="1"/>
<rect x="1425" y="835" width="3" height="1"/>
<rect x="1431" y="835" width="3" height="1"/>
<rect x="1437" y="835" width="3" height="1"/>
<rect x="1443" y="835" width="3" height="1"/>
<rect x="1449" y="835" width="3" height="1"/>
<rect x="1455" y="835" width="3" height="1"/>
<rect x="1461" y="835" width="3" height="1"/>
<rect x="1467" y="835" width="3" height="1"/>
<rect x="1473" y="835" width="3" height="1"/>
<rect x="1479" y="835" width="3" height="1"/>
<rect x="1485" y="835" width="3" height="1"/>
<rect x="1491" y="835" width="3" height="1"/>
<rect x="1497" y="835" width="3" height="1"/>
<rect x="1503" y="835" width="3" height="1"/>
<rect x="1509" y="835" width="3" height="1"/>
<rect x="1515" y="835" width="3" height="1"/>
<rect x="1521" y="835" width="3" height="1"/>
<rect x="1527" y="835" width="3" height="1"/>
<rect x="1533" y="835" width="3" height="1"/>
<rect x="1539" y="835" width="3" height="1"/>
<rect x="1545" y="835" width="3" height="1"/>
<rect x="1551" y="835" width="3" height="1"/>
<rect x="1557" y="835" width="3" height="1"/>
<rect x="1563" y="835" width="3" height="1"/>
<rect x="1569" y="835" width="3" height="1"/>
<rect x="1575" y="835" width="3" height="1"/>
<rect x="1581" y="835" width="3" height="1"/>
<rect x="1587" y="835" width="3" height="1"/>
<rect x="1593" y="835" width="3" height="1"/>
<rect x="1599" y="835" width="3" height="1"/>
<rect x="1605" y="835" width="3" height="1"/>
<rect x="1611" y="835" width="3" height="1"/>
<rect x="1617" y="835" width="3" height="1"/>
<rect x="1623" y="835" width="3" height="1"/>
<rect x="1629" y="835" width="3" height="1"/>
<rect x="1635" y="835" width="3" height="1"/>
<rect x="1641" y="835" width="3" height="1"/>
<rect x="1647" y="835" width="3" height="1"/>
<rect x="1653" y="835" width="3" height="1"/>
<rect x="1659" y="835" width="3" height="1"/>
<rect x="1665" y="835" width="3" height="1"/>
<rect x="1671" y="835" width="3" height="1"/>
<rect x="1677" y="835" width="3" height="1"/>
<rect x="1683" y="835" width="3" height="1"/>
<rect x="3" y="896" width="3" height="1"/>
<rect x="9" y="896" width="3" height="1"/>
<rect x="15" y="896" width="3" height="1"/>
<rect x="21" y="896" width="3" height="1"/>
<rect x="27" y="896" width="3" height="1"/>
<rect x="33" y="896" width="3" height="1"/>
<rect x="39" y="896" width="3" height="1"/>
<rect x="45" y="896" width="3" height="1"/>
<rect x="51" y="896" width="3" height="1"/>
<rect x="57" y="896" width="3" height="1"/>
<rect x="63" y="896" width="3" height="1"/>
<rect x="69" y="896" width="3" height="1"/>
<rect x="75" y="896" width="3" height="1"/>
<rect x="81" y="896" width="3" height="1"/>
<rect x="87" y="896" width="3" height="1"/>
<rect x="93" y="896" width="3" height="1"/>
<rect x="99" y="896" width="3" height="1"/>
<rect x="105" y="896" width="3" height="1"/>
<rect x="111" y="896" width="3" height="1"/>
<rect x="117" y="896" width="3" height="1"/>
<rect x="123" y="896" width="3" height="1"/>
<rect x="129" y="896" width="3" height="1"/>
<rect x="135" y="896" width="3" height="1"/>
<rect x="141" y="896" width="3" height="1"/>
<rect x="147" y="896" width="3" height="1"/>
<rect x="153" y="896" width="3" height="1"/>
<rect x="159" y="896" width="3" height="1"/>
<rect x="165" y="896" width="3" height="1"/>
<rect x="171" y="896" width="3" height="1"/>
<rect x="177" y="896" width="3" height="1"/>
<rect x="183" y="896" width="3" height="1"/>
<rect x="189" y="896" width="3" height="1"/>
<rect x="195" y="896" width="3" height="1"/>
<rect x="201" y="896" width="3" height="1"/>
<rect x="207" y="896" width="3" height="1"/>
<rect x="213" y="896" width="3" height="1"/>
<rect x="219" y="896" width="3" height="1"/>
<rect x="225" y="896" width="3" height="1"/>
<rect x="231" y="896" width="3" height="1"/>
<rect x="237" y="896" width="3" height="1"/>
<rect x="243" y="896" width="3" height="1"/>
<rect x="249" y="896" width="3" height="1"/>
<rect x="255" y="896" width="3" height="1"/>
<rect x="261" y="896" width="3" height="1"/>
<rect x="267" y="896" width="3" height="1"/>
<rect x="273" y="896" width="3" height="1"/>
<rect x="279" y="896" width="3" height="1"/>
<rect x="285" y="896" width="3" height="1"/>
<rect x="291" y="896" width="3" height="1"/>
<rect x="297" y="896" width="3" height="1"/>
<rect x="303" y="896" width="3" height="1"/>
<rect x="309" y="896" width="3" height="1"/>
<rect x="315" y="896" width="3" height="1"/>
<rect x="321" y="896" width="3" height="1"/>
<rect x="327" y="896" width="3" height="1"/>
<rect x="333" y="896" width="3" height="1"/>
<rect x="339" y="896" width="3" height="1"/>
<rect x="345" y="896" width="3" height="1"/>
<rect x="351" y="896" width="3" height="1"/>
<rect x="357" y="896" width="3" height="1"/>
<rect x="363" y="896" width="3" height="1"/>
<rect x="369" y="896" width="3" height="1"/>
<rect x="375" y="896" width="3" height="1"/>
<rect x="381" y="896" width="3" height="1"/>
<rect x="387" y="896" width="3" height="1"/>
<rect x="393" y="896" width="3" height="1"/>
<rect x="399" y="896" width="3" height="1"/>
<rect x="405" y="896" width="3" height="1"/>
<rect x="411" y="896" width="3" height="1"/>
<rect x="417" y="896" width="3" height="1"/>
<rect x="423" y="896" width="3" height="1"/>
<rect x="429" y="896" width="3" height="1"/>
<rect x="435" y="896" width="3" height="1"/>
<rect x="441" y="896" width="3" height="1"/>
<rect x="447" y="896" width="3" height="1"/>
<rect x="453" y="896" width="3" height="1"/>
<rect x="459" y="896" width="3" height="1"/>
<rect x="465" y="896" width="3" height="1"/>
<rect x="471" y="896" width="3" height="1"/>
<rect x="477" y="896" width="3" height="1"/>
<rect x="483" y="896" width="3" height="1"/>
<rect x="489" y="896" width="3" height="1"/>
<rect x="495" y="896" width="3" height="1"/>
<rect x="501" y="896" width="3" height="1"/>
<rect x="507" y="896" width="3" height="1"/>
<rect x="513" y="896" width="3" height="1"/>
<rect x="519" y="896" width="3" height="1"/>
<rect x="525" y="896" width="3" height="1"/>
<rect x="531" y="896" width="3" height="1"/>
<rect x="537" y="896" width="3" height="1"/>
<rect x="543" y="896" width="3" height="1"/>
<rect x="549" y="896" width="3" height="1"/>
<rect x="555" y="896" width="3" height="1"/>
<rect x="561" y="896" width="3" height="1"/>
<rect x="567" y="896" width="3" height="1"/>
<rect x="573" y="896" width="3" height="1"/>
<rect x="579" y="896" width="3" height="1"/>
<rect x="585" y="896" width="3" height="1"/>
<rect x="591" y="896" width="3" height="1"/>
<rect x="597" y="896" width="3" height="1"/>
<rect x="603" y="896" width="3" height="1"/>
<rect x="609" y="896" width="3" height="1"/>
<rect x="615" y="896" width="3" height="1"/>
<rect x="621" y="896" width="3" height="1"/>
<rect x="627" y="896" width="3" height="1"/>
<rect x="633" y="896" width="3" height="1"/>
<rect x="639" y="896" width="3" height="1"/>
<rect x="645" y="896" width="3" height="1"/>
<rect x="651" y="896" width="3" height="1"/>
<rect x="657" y="896" width="3" height="1"/>
<rect x="663" y="896" width="3" height="1"/>
<rect x="669" y="896" width="3" height="1"/>
<rect x="675" y="896" width="3" height="1"/>
<rect x="681" y="896" width="3" height="1"/>
<rect x="687" y="896" width="3" height="1"/>
<rect x="693" y="896" width="3" height="1"/>
<rect x="699" y="896" width="3" height="1"/>
<rect x="705" y="896" width="3" height="1"/>
<rect x="711" y="896" width="3" height="1"/>
<rect x="717" y="896" width="3" height="1"/>
<rect x="723" y="896" width="3" height="1"/>
<rect x="729" y="896" width="3" height="1"/>
<rect x="735" y="896" width="3" height="1"/>
<rect x="741" y="896" width="3" height="1"/>
<rect x="747" y="896" width="3" height="1"/>
<rect x="753" y="896" width="3" height="1"/>
<rect x="759" y="896" width="3" height="1"/>
<rect x="765" y="896" width="3" height="1"/>
<rect x="771" y="896" width="3" height="1"/>
<rect x="777" y="896" width="3" height="1"/>
<rect x="783" y="896" width="3" height="1"/>
<rect x="789" y="896" width="3" height="1"/>
<rect x="795" y="896" width="3" height="1"/>
<rect x="801" y="896" width="3" height="1"/>
<rect x="807" y="896" width="3" height="1"/>
<rect x="813" y="896" width="3" height="1"/>
<rect x="819" y="896" width="3" height="1"/>
<rect x="825" y="896" width="3" height="1"/>
<rect x="831" y="896" width="3" height="1"/>
<rect x="837" y="896" width="3" height="1"/>
<rect x="843" y="896" width="3" height="1"/>
<rect x="849" y="896" width="3" height="1"/>
<rect x="855" y="896" width="3" height="1"/>
<rect x="861" y="896" width="3" height="1"/>
<rect x="867" y="896" width="3" height="1"/>
<rect x="873" y="896" width="3" height="1"/>
<rect x="879" y="896" width="3" height="1"/>
<rect x="885" y="896" width="3" height="1"/>
<rect x="891" y="896" width="3" height="1"/>
<rect x="897" y="896" width="3" height="1"/>
<rect x="903" y="896" width="3" height="1"/>
<rect x="909" y="896" width="3" height="1"/>
<rect x="915" y="896" width="3" height="1"/>
<rect x="921" y="896" width="3" height="1"/>
<rect x="927" y="896" width="3" height="1"/>
<rect x="933" y="896" width="3" height="1"/>
<rect x="939" y="896" width="3" height="1"/>
<rect x="945" y="896" width="3" height="1"/>
<rect x="951" y="896" width="3" height="1"/>
<rect x="957" y="896" width="3" height="1"/>
<rect x="963" y="896" width="3" height="1"/>
<rect x="969" y="896" width="3" height="1"/>
<rect x="975" y="896" width="3" height="1"/>
<rect x="981" y="896" width="3" height="1"/>
<rect x="987" y="896" width="3" height="1"/>
<rect x="993" y="896" width="3" height="1"/>
<rect x="999" y="896" width="3" height="1"/>
<rect x="1005" y="896" width="3" height="1"/>
<rect x="1011" y="896" width="3" height="1"/>
<rect x="1017" y="896" width="3" height="1"/>
<rect x="1023" y="896" width="3" height="1"/>
<rect x="1029" y="896" width="3" height="1"/>
<rect x="1035" y="896" width="3" height="1"/>
<rect x="1041" y="896" width="3" height="1"/>
<rect x="1047" y="896" width="3" height="1"/>
<rect x="1053" y="896" width="3" height="1"/>
<rect x="1059" y="896" width="3" height="1"/>
<rect x="1065" y="896" width="3" height="1"/>
<rect x="1071" y="896" width="3" height="1"/>
<rect x="1077" y="896" width="3" height="1"/>
<rect x="1083" y="896" width="3" height="1"/>
<rect x="1089" y="896" width="3" height="1"/>
<rect x="1095" y="896" width="3" height="1"/>
<rect x="1101" y="896" width="3" height="1"/>
<rect x="1107" y="896" width="3" height="1"/>
<rect x="1113" y="896" width="3" height="1"/>
<rect x="1119" y="896" width="3" height="1"/>
<rect x="1125" y="896" width="3" height="1"/>
<rect x="1131" y="896" width="3" height="1"/>
<rect x="1137" y="896" width="3" height="1"/>
<rect x="1143" y="896" width="3" height="1"/>
<rect x="1149" y="896" width="3" height="1"/>
<rect x="1155" y="896" width="3" height="1"/>
<rect x="1161" y="896" width="3" height="1"/>
<rect x="1167" y="896" width="3" height="1"/>
<rect x="1173" y="896" width="3" height="1"/>
<rect x="1179" y="896" width="3" height="1"/>
<rect x="1185" y="896" width="3" height="1"/>
<rect x="1191" y="896" width="3" height="1"/>
<rect x="1197" y="896" width="3" height="1"/>
<rect x="1203" y="896" width="3" height="1"/>
<rect x="1209" y="896" width="3" height="1"/>
<rect x="1215" y="896" width="3" height="1"/>
<rect x="1221" y="896" width="3" height="1"/>
<rect x="1227" y="896" width="3" height="1"/>
<rect x="1233" y="896" width="3" height="1"/>
<rect x="1239" y="896" width="3" height="1"/>
<rect x="1245" y="896" width="3" height="1"/>
<rect x="1251" y="896" width="3" height="1"/>
<rect x="1257" y="896" width="3" height="1"/>
<rect x="1263" y="896" width="3" height="1"/>
<rect x="1269" y="896" width="3" height="1"/>
<rect x="1275" y="896" width="3" height="1"/>
<rect x="1281" y="896" width="3" height="1"/>
<rect x="1287" y="896" width="3" height="1"/>
<rect x="1293" y="896" width="3" height="1"/>
<rect x="1299" y="896" width="3" height="1"/>
<rect x="1305" y="896" width="3" height="1"/>
<rect x="1311" y="896" width="3" height="1"/>
<rect x="1317" y="896" width="3" height="1"/>
<rect x="1323" y="896" width="3" height="1"/>
<rect x="1329" y="896" width="3" height="1"/>
<rect x="1335" y="896" width="3" height="1"/>
<rect x="1341" y="896" width="3" height="1"/>
<rect x="1347" y="896" width="3" height="1"/>
<rect x="1353" y="896" width="3" height="1"/>
<rect x="1359" y="896" width="3" height="1"/>
<rect x="1365" y="896" width="3" height="1"/>
<rect x="1371" y="896" width="3" height="1"/>
<rect x="1377" y="896" width="3" height="1"/>
<rect x="1383" y="896" width="3" height="1"/>
<rect x="1389" y="896" width="3" height="1"/>
<rect x="1395" y="896" width="3" height="1"/>
<rect x="1401" y="896" width="3" height="1"/>
<rect x="1407" y="896" width="3" height="1"/>
<rect x="1413" y="896" width="3" height="1"/>
<rect x="1419" y="896" width="3" height="1"/>
<rect x="1425" y="896" width="3" height="1"/>
<rect x="1431" y="896" width="3" height="1"/>
<rect x="1437" y="896" width="3" height="1"/>
<rect x="1443" y="896" width="3" height="1"/>
<rect x="1449" y="896" width="3" height="1"/>
<rect x="1455" y="896" width="3" height="1"/>
<rect x="1461" y="896" width="3" height="1"/>
<rect x="1467" y="896" width="3" height="1"/>
<rect x="1473" y="896" width="3" height="1"/>
<rect x="1479" y="896" width="3" height="1"/>
<rect x="1485" y="896" width="3" height="1"/>
<rect x="1491" y="896" width="3" height="1"/>
<rect x="1497" y="896" width="3" height="1"/>
<rect x="1503" y="896" width="3" height="1"/>
<rect x="1509" y="896" width="3" height="1"/>
<rect x="1515" y="896" width="3" height="1"/>
<rect x="1521" y="896" width="3" height="1"/>
<rect x="1527" y="896" width="3" height="1"/>
<rect x="1533" y="896" width="3" height="1"/>
<rect x="1539" y="896" width="3" height="1"/>
<rect x="1545" y="896" width="3" height="1"/>
<rect x="1551" y="896" width="3" height="1"/>
<rect x="1557" y="896" width="3" height="1"/>
<rect x="1563" y="896" width="3" height="1"/>
<rect x="1569" y="896" width="3" height="1"/>
<rect x="1575" y="896" width="3" height="1"/>
<rect x="1581" y="896" width="3" height="1"/>
<rect x="1587" y="896" width="3" height="1"/>
<rect x="1593" y="896" width="3" height="1"/>
<rect x="1599" y="896" width="3" height="1"/>
<rect x="1605" y="896" width="3" height="1"/>
<rect x="1611" y="896" width="3" height="1"/>
<rect x="1617" y="896" width="3" height="1"/>
<rect x="1623" y="896" width="3" height="1"/>
<rect x="1629" y="896" width="3" height="1"/>
<rect x="1635" y="896" width="3" height="1"/>
<rect x="1641" y="896" width="3" height="1"/>
<rect x="1647" y="896" width="3" height="1"/>
<rect x="1653" y="896" width="3" height="1"/>
<rect x="1659" y="896" width="3" height="1"/>
<rect x="1665" y="896" width="3" height="1"/>
<rect x="1671" y="896" width="3" height="1"/>
<rect x="1677" y="896" width="3" height="1"/>
<rect x="1683" y="896" width="3" height="1"/>
</g>
<polyline fill="none" stroke="#1e90ff" stroke-width="1" shape-rendering="crispEdges" points="-3.5,838.3 4.5,839.1 12.5,826.5 20.5,832.6 28.5,840.4 36.5,848.3 44.5,854.0 52.5,854.9 60.5,839.6 68.5,842.1 76.5,845.2 84.5,842.5 92.5,848.8 100.5,848.2 108.5,847.1 116.5,834.4 124.5,834.0 132.5,832.4 140.5,831.2 148.5,830.2 156.5,831.2 164.5,823.1 172.5,819.2 180.5,821.5 188.5,823.7 196.5,823.9 204.5,829.3 212.5,827.5 220.5,830.8 228.5,828.6 236.5,834.5 244.5,830.5 252.5,816.1 260.5,812.7 268.5,808.6 276.5,816.1 284.5,823.9 292.5,823.9 300.5,822.3 308.5,819.8 316.5,813.3 324.5,802.4 332.5,792.0 340.5,791.4 348.5,792.6 356.5,802.1 364.5,798.9 372.5,797.6 380.5,807.4 388.5,810.3 396.5,805.1 404.5,801.1 412.5,797.3 420.5,793.6 428.5,801.2 436.5,799.6 444.5,815.6 452.5,809.2 460.5,817.5 468.5,810.2 476.5,829.4 484.5,828.7 492.5,829.8 500.5,813.8 508.5,813.0 516.5,805.4 524.5,807.8 532.5,805.0 540.5,798.9 548.5,796.9 556.5,800.3 564.5,819.5 572.5,814.9 580.5,820.3 588.5,833.9 596.5,858.5 604.5,850.1 612.5,864.7 620.5,866.0 628.5,863.3 636.5,864.0 644.5,864.3 652.5,859.1 660.5,861.7 668.5,866.9 676.5,866.0 684.5,873.1 692.5,875.2 700.5,875.2 708.5,864.3 716.5,864.9 724.5,858.8 732.5,843.9 740.5,841.3 748.5,837.7 756.5,840.2 764.5,836.0 772.5,834.4 780.5,821.9 788.5,839.1 796.5,830.1 804.5,826.2 812.5,820.7 820.5,822.3 828.5,822.7 836.5,839.3 844.5,834.2 852.5,844.5 860.5,839.9 868.5,839.9 876.5,836.3 884.5,834.7 892.5,824.4 900.5,828.4 908.5,838.2 916.5,835.9 924.5,839.2 932.5,842.2 940.5,851.8 948.5,855.3 956.5,847.3 964.5,853.2 972.5,850.3 980.5,824.8 988.5,844.8 996.5,836.9 1004.5,839.8 1012.5,836.9 1020.5,815.6 1028.5,808.2 1036.5,810.5 1044.5,826.5 1052.5,826.9 1060.5,822.6 1068.5,824.5 1076.5,825.7 1084.5,830.7 1092.5,832.3 1100.5,828.6 1108.5,826.1 1116.5,814.7 1124.5,811.9 1132.5,811.1 1140.5,819.0 1148.5,829.9 1156.5,826.0 1164.5,822.6 1172.5,814.0 1180.5,819.4 1188.5,818.9 1196.5,816.2 1204.5,818.4 1212.5,832.0 1220.5,828.6 1228.5,825.9 1236.5,837.5 1244.5,849.3 1252.5,837.4 1260.5,835.9 1268.5,827.0 1276.5,823.4 1284.5,820.7 1292.5,826.9 1300.5,838.1 1308.5,834.5 1316.5,837.5 1324.5,824.0 1332.5,819.0 1340.5,818.0 1348.5,829.7 1356.5,828.3 1364.5,819.9 1372.5,815.9 1380.5,813.1 1388.5,831.2 1396.5,831.7 1404.5,826.8 1412.5,821.4 1420.5,820.6 1428.5,823.9 1436.5,822.6 1444.5,812.2"/>
</g>
<g shape-rendering="crispEdges" fill="#000">
<rect x="1687" y="43" width="3" height="1"/>
<rect x="1687" y="76" width="3" height="1"/>
<rect x="1687" y="109" width="3" height="1"/>
<rect x="1687" y="142" width="3" height="1"/>
<rect x="1687" y="175" width="3" height="1"/>
<rect x="1687" y="208" width="3" height="1"/>
<rect x="1687" y="241" width="3" height="1"/>
<rect x="1687" y="274" width="3" height="1"/>
<rect x="1687" y="307" width="3" height="1"/>
<rect x="1687" y="340" width="3" height="1"/>
<rect x="1687" y="373" width="3" height="1"/>
<rect x="1687" y="406" width="3" height="1"/>
<rect x="1687" y="439" width="3" height="1"/>
<rect x="1687" y="472" width="3" height="1"/>
<rect x="1687" y="505" width="3" height="1"/>
<rect x="1687" y="538" width="3" height="1"/>
<rect x="1687" y="571" width="3" height="1"/>
</g>
<text x="1692" y="47.2" font-size="9" fill="#000" text-anchor="start" font-weight="normal" textLength="32" lengthAdjust="spacingAndGlyphs">142.810</text>
<text x="1692" y="80.2" font-size="9" fill="#000" text-anchor="start" font-weight="normal" textLength="32" lengthAdjust="spacingAndGlyphs">142.110</text>
<text x="1692" y="113.2" font-size="9" fill="#000" text-anchor="start" font-weight="normal" textLength="32" lengthAdjust="spacingAndGlyphs">141.390</text>
<text x="1692" y="146.1" font-size="9" fill="#000" text-anchor="start" font-weight="normal" textLength="32" lengthAdjust="spacingAndGlyphs">140.690</text>
<text x="1692" y="179.1" font-size="9" fill="#000" text-anchor="start" font-weight="normal" textLength="32" lengthAdjust="spacingAndGlyphs">139.990</text>
<text x="1692" y="212.1" font-size="9" fill="#000" text-anchor="start" font-weight="normal" textLength="32" lengthAdjust="spacingAndGlyphs">139.290</text>
<text x="1692" y="245.1" font-size="9" fill="#000" text-anchor="start" font-weight="normal" textLength="32" lengthAdjust="spacingAndGlyphs">138.570</text>
<text x="1692" y="278.0" font-size="9" fill="#000" text-anchor="start" font-weight="normal" textLength="32" lengthAdjust="spacingAndGlyphs">137.870</text>
<text x="1692" y="311.0" font-size="9" fill="#000" text-anchor="start" font-weight="normal" textLength="32" lengthAdjust="spacingAndGlyphs">137.170</text>
<text x="1692" y="344.0" font-size="9" fill="#000" text-anchor="start" font-weight="normal" textLength="32" lengthAdjust="spacingAndGlyphs">136.470</text>
<text x="1692" y="377.0" font-size="9" fill="#000" text-anchor="start" font-weight="normal" textLength="32" lengthAdjust="spacingAndGlyphs">135.750</text>
<text x="1692" y="409.9" font-size="9" fill="#000" text-anchor="start" font-weight="normal" textLength="32" lengthAdjust="spacingAndGlyphs">135.050</text>
<text x="1692" y="442.9" font-size="9" fill="#000" text-anchor="start" font-weight="normal" textLength="32" lengthAdjust="spacingAndGlyphs">134.350</text>
<text x="1692" y="475.9" font-size="9" fill="#000" text-anchor="start" font-weight="normal" textLength="32" lengthAdjust="spacingAndGlyphs">133.630</text>
<text x="1692" y="508.9" font-size="9" fill="#000" text-anchor="start" font-weight="normal" textLength="32" lengthAdjust="spacingAndGlyphs">132.930</text>
<text x="1692" y="541.8" font-size="9" fill="#000" text-anchor="start" font-weight="normal" textLength="32" lengthAdjust="spacingAndGlyphs">132.230</text>
<text x="1692" y="574.8" font-size="9" fill="#000" text-anchor="start" font-weight="normal" textLength="32" lengthAdjust="spacingAndGlyphs">131.530</text>
<rect x="1688" y="51" width="41" height="11" fill="#ff0000" shape-rendering="crispEdges"/>
<text x="1692" y="59.6" font-size="9" fill="#fff" text-anchor="start" font-weight="normal" textLength="32" lengthAdjust="spacingAndGlyphs">142.503</text>
<rect x="1688" y="66" width="41" height="11" fill="#ff0000" shape-rendering="crispEdges"/>
<text x="1692" y="74.6" font-size="9" fill="#fff" text-anchor="start" font-weight="normal" textLength="32" lengthAdjust="spacingAndGlyphs">142.183</text>
<rect x="1688" y="88" width="41" height="11" fill="#000000" shape-rendering="crispEdges"/>
<text x="1692" y="96.6" font-size="9" fill="#fff" text-anchor="start" font-weight="normal" textLength="32" lengthAdjust="spacingAndGlyphs">141.746</text>
<rect x="1688" y="100" width="41" height="11" fill="#32cd32" shape-rendering="crispEdges"/>
<text x="1692" y="108.6" font-size="9" fill="#fff" text-anchor="start" font-weight="normal" textLength="32" lengthAdjust="spacingAndGlyphs">141.457</text>
<rect x="1688" y="118" width="41" height="11" fill="#0000ff" shape-rendering="crispEdges"/>
<text x="1692" y="126.6" font-size="9" fill="#fff" text-anchor="start" font-weight="normal" textLength="32" lengthAdjust="spacingAndGlyphs">141.073</text>
<rect x="1688" y="135" width="41" height="11" fill="#0000ff" shape-rendering="crispEdges"/>
<text x="1692" y="143.6" font-size="9" fill="#fff" text-anchor="start" font-weight="normal" textLength="32" lengthAdjust="spacingAndGlyphs">140.710</text>
<g shape-rendering="crispEdges" fill="#000"><rect x="1687" y="578" width="3" height="1"/><rect x="1687" y="660" width="3" height="1"/><rect x="1687" y="745" width="3" height="1"/></g>
<text x="1690.5" y="587.2" font-size="9" fill="#000" text-anchor="start" font-weight="normal" textLength="26.5" lengthAdjust="spacingAndGlyphs">1.4149</text>
<text x="1690.5" y="664.1" font-size="9" fill="#000" text-anchor="start" font-weight="normal" textLength="17.5" lengthAdjust="spacingAndGlyphs">0.00</text>
<text x="1690" y="743" font-size="9" fill="#000" text-anchor="start" font-weight="normal" textLength="30" lengthAdjust="spacingAndGlyphs">-1.4532</text>
<g shape-rendering="crispEdges" fill="#000"><rect x="1687" y="750" width="3" height="1"/><rect x="1687" y="784" width="3" height="1"/><rect x="1687" y="835" width="3" height="1"/><rect x="1687" y="896" width="3" height="1"/><rect x="1687" y="921" width="3" height="1"/></g>
<text x="1690.5" y="759.1" font-size="9" fill="#000" text-anchor="start" font-weight="normal" >100</text>
<text x="1690.5" y="788.2" font-size="9" fill="#000" text-anchor="start" font-weight="normal" >80</text>
<text x="1690.5" y="839.2" font-size="9" fill="#000" text-anchor="start" font-weight="normal" >50</text>
<text x="1690.5" y="900.2" font-size="9" fill="#000" text-anchor="start" font-weight="normal" >15</text>
<text x="1690.5" y="918.4" font-size="9" fill="#000" text-anchor="start" font-weight="normal" >0</text>
<polygon points="0,32 3,28.5 6,32" fill="#000"/>
<text x="11.3" y="32.3" font-size="9" fill="#000" text-anchor="start" font-weight="normal" textLength="62.4" lengthAdjust="spacingAndGlyphs">GBPJPY-,Daily</text>
<text x="80.3" y="32.3" font-size="9" fill="#000" text-anchor="start" font-weight="normal" textLength="140.7" lengthAdjust="spacingAndGlyphs">140.803 142.010 140.730 141.746</text>
<text x="1" y="589" font-size="9" fill="#000" text-anchor="start" font-weight="normal" textLength="126.5" lengthAdjust="spacingAndGlyphs">MACD(12,26,9) 0.5359 0.4740</text>
<text x="1" y="761.3" font-size="9" fill="#000" text-anchor="start" font-weight="normal" textLength="66.7" lengthAdjust="spacingAndGlyphs">RSI(14) 63.7524</text>
<g shape-rendering="crispEdges" fill="#000">
<rect x="60" y="923" width="1" height="3"/>
<rect x="124" y="923" width="1" height="3"/>
<rect x="188" y="923" width="1" height="3"/>
<rect x="252" y="923" width="1" height="3"/>
<rect x="316" y="923" width="1" height="3"/>
<rect x="380" y="923" width="1" height="3"/>
<rect x="444" y="923" width="1" height="3"/>
<rect x="508" y="923" width="1" height="3"/>
<rect x="572" y="923" width="1" height="3"/>
<rect x="636" y="923" width="1" height="3"/>
<rect x="700" y="923" width="1" height="3"/>
<rect x="764" y="923" width="1" height="3"/>
<rect x="828" y="923" width="1" height="3"/>
<rect x="892" y="923" width="1" height="3"/>
<rect x="956" y="923" width="1" height="3"/>
<rect x="1020" y="923" width="1" height="3"/>
<rect x="1084" y="923" width="1" height="3"/>
<rect x="1148" y="923" width="1" height="3"/>
<rect x="1212" y="923" width="1" height="3"/>
<rect x="1276" y="923" width="1" height="3"/>
<rect x="1340" y="923" width="1" height="3"/>
<rect x="1404" y="923" width="1" height="3"/>
</g>
<text x="0" y="934.9" font-size="9" fill="#000" text-anchor="start" font-weight="normal" >2 Jun 2020</text>
<text x="59.3" y="934.9" font-size="9" fill="#000" text-anchor="start" font-weight="normal" >22 Jun 2020</text>
<text x="123.3" y="934.9" font-size="9" fill="#000" text-anchor="start" font-weight="normal" >1 Jul 2020</text>
<text x="187.3" y="934.9" font-size="9" fill="#000" text-anchor="start" font-weight="normal" >10 Jul 2020</text>
<text x="251.3" y="934.9" font-size="9" fill="#000" text-anchor="start" font-weight="normal" >20 Jul 2020</text>
<text x="315.3" y="934.9" font-size="9" fill="#000" text-anchor="start" font-weight="normal" >29 Jul 2020</text>
<text x="379.3" y="934.9" font-size="9" fill="#000" text-anchor="start" font-weight="normal" >7 Aug 2020</text>
<text x="443.3" y="934.9" font-size="9" fill="#000" text-anchor="start" font-weight="normal" >17 Aug 2020</text>
<text x="507.3" y="934.9" font-size="9" fill="#000" text-anchor="start" font-weight="normal" >26 Aug 2020</text>
<text x="571.3" y="934.9" font-size="9" fill="#000" text-anchor="start" font-weight="normal" >4 Sep 2020</text>
<text x="635.3" y="934.9" font-size="9" fill="#000" text-anchor="start" font-weight="normal" >14 Sep 2020</text>
<text x="699.3" y="934.9" font-size="9" fill="#000" text-anchor="start" font-weight="normal" >23 Sep 2020</text>
<text x="763.3" y="934.9" font-size="9" fill="#000" text-anchor="start" font-weight="normal" >2 Oct 2020</text>
<text x="827.3" y="934.9" font-size="9" fill="#000" text-anchor="start" font-weight="normal" >12 Oct 2020</text>
<text x="891.3" y="934.9" font-size="9" fill="#000" text-anchor="start" font-weight="normal" >21 Oct 2020</text>
<text x="955.3" y="934.9" font-size="9" fill="#000" text-anchor="start" font-weight="normal" >30 Oct 2020</text>
<text x="1019.3" y="934.9" font-size="9" fill="#000" text-anchor="start" font-weight="normal" >9 Nov 2020</text>
<text x="1083.3" y="934.9" font-size="9" fill="#000" text-anchor="start" font-weight="normal" >18 Nov 2020</text>
<text x="1147.3" y="934.9" font-size="9" fill="#000" text-anchor="start" font-weight="normal" >27 Nov 2020</text>
<text x="1211.3" y="934.9" font-size="9" fill="#000" text-anchor="start" font-weight="normal" >7 Dec 2020</text>
<text x="1275.3" y="934.9" font-size="9" fill="#000" text-anchor="start" font-weight="normal" >16 Dec 2020</text>
<text x="1339.3" y="934.9" font-size="9" fill="#000" text-anchor="start" font-weight="normal" >27 Dec 2020</text>
<text x="1403.3" y="934.9" font-size="9" fill="#000" text-anchor="start" font-weight="normal" >6 Jan 2021</text>
<polygon points="1444,22 1453,22 1448.5,27" fill="#c0c0c0"/>
<defs><linearGradient id="gU" x1="0" y1="0" x2="0" y2="1"><stop offset="0" stop-color="#5e5eff"/><stop offset="1" stop-color="#3a3af2"/></linearGradient><linearGradient id="gL" x1="0" y1="0" x2="0" y2="1"><stop offset="0" stop-color="#3838ea"/><stop offset="1" stop-color="#0000b0"/></linearGradient><linearGradient id="gB" x1="0" y1="0" x2="0" y2="1"><stop offset="0" stop-color="#f4f4f4"/><stop offset="0.45" stop-color="#e6e6e6"/><stop offset="0.5" stop-color="#d9d9d9"/><stop offset="1" stop-color="#cfcfcf"/></linearGradient></defs>
<g shape-rendering="crispEdges">
<rect x="0" y="35" width="220" height="77" fill="#fff"/>
<rect x="0" y="41" width="51" height="24" fill="url(#gU)"/>
<rect x="166" y="41" width="52" height="24" fill="url(#gU)"/>
<rect x="0" y="65" width="108" height="40" fill="url(#gL)"/>
<rect x="110" y="65" width="108" height="40" fill="url(#gL)"/>
<rect x="0" y="41" width="51" height="1" fill="#1c1cc0"/><rect x="166" y="41" width="52" height="1" fill="#1c1cc0"/>
<rect x="3" y="64" width="44" height="1" fill="#1a1a90"/><rect x="3" y="65" width="44" height="1" fill="#7a7aff"/>
<rect x="170" y="64" width="44" height="1" fill="#1a1a90"/><rect x="170" y="65" width="44" height="1" fill="#7a7aff"/>
<rect x="0" y="104" width="108" height="1" fill="#0000a0"/><rect x="110" y="104" width="108" height="1" fill="#0000a0"/>
<rect x="51" y="41" width="115" height="24" fill="#fff"/>
<rect x="53" y="41" width="111" height="22" fill="#a0a0a0"/>
<rect x="54" y="42" width="109" height="20" fill="#fff"/>
<rect x="54" y="42" width="20" height="20" fill="url(#gB)"/><rect x="74" y="42" width="1" height="20" fill="#b0b0b0"/>
<rect x="143" y="42" width="20" height="20" fill="url(#gB)"/><rect x="142" y="42" width="1" height="20" fill="#b0b0b0"/>
</g>
<polygon points="61.5,50.5 66.5,50.5 64,53.5" fill="#5a6fc0"/>
<polygon points="150,53 155,53 152.5,50" fill="#5a6fc0"/>
<text x="139" y="56.3" font-size="12" fill="#000" text-anchor="end" font-weight="normal" textLength="23" lengthAdjust="spacingAndGlyphs">1.00</text>
<text x="11.5" y="57" font-size="11.5" fill="#ececff" text-anchor="start" font-weight="normal" textLength="25.4" lengthAdjust="spacingAndGlyphs">SELL</text>
<text x="179.7" y="57" font-size="11.5" fill="#ececff" text-anchor="start" font-weight="normal" textLength="23.6" lengthAdjust="spacingAndGlyphs">BUY</text>
<text x="22.6" y="95.7" font-size="12" fill="#fff" text-anchor="start" font-weight="bold" textLength="20.2" lengthAdjust="spacingAndGlyphs">141</text>
<text x="47" y="95.7" font-size="34.5" fill="#fff" text-anchor="start" font-weight="normal" textLength="34.5" lengthAdjust="spacingAndGlyphs">74</text>
<text x="86.4" y="80.2" font-size="12.5" fill="#fff" text-anchor="start" font-weight="bold" textLength="6.6" lengthAdjust="spacingAndGlyphs">6</text>
<text x="132.6" y="95.7" font-size="12" fill="#fff" text-anchor="start" font-weight="bold" textLength="20" lengthAdjust="spacingAndGlyphs">141</text>
<text x="158.4" y="95.7" font-size="34.5" fill="#fff" text-anchor="start" font-weight="normal" textLength="33.6" lengthAdjust="spacingAndGlyphs">83</text>
<text x="197" y="80.2" font-size="12.5" fill="#fff" text-anchor="start" font-weight="bold" textLength="6.6" lengthAdjust="spacingAndGlyphs">2</text>
</svg>

</body></html>
